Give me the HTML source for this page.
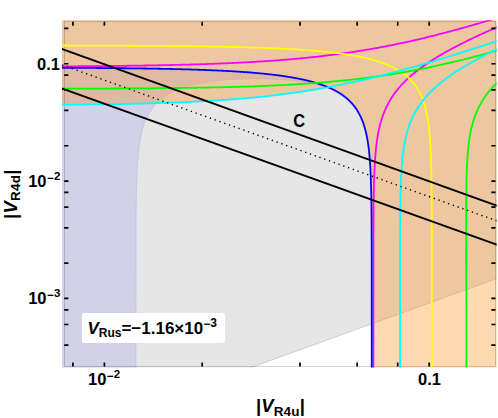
<!DOCTYPE html><html><head><meta charset="utf-8"><style>html,body{margin:0;padding:0;background:#fff}body{width:498px;height:418px;position:relative;overflow:hidden;font-family:"Liberation Sans",sans-serif}</style></head><body><svg width="498" height="418" viewBox="0 0 498 418" style="position:absolute;left:0;top:0">
<defs><clipPath id="cp"><rect x="62.00" y="20.30" width="434.70" height="347.10"/></clipPath></defs>
<rect width="498" height="418" fill="#fff"/>
<g clip-path="url(#cp)">
<path d="M62.00 20.30 L496.70 20.30 L496.70 278.57 L251.22 367.40 L62.00 367.40 Z" fill="#e6e6e6"/>
<path d="M61.00 368.40 L61.00 67.77 L60.00 67.77 L63.08 67.78 L66.09 67.80 L69.04 67.81 L71.93 67.83 L74.76 67.84 L77.53 67.86 L80.25 67.87 L82.92 67.89 L85.54 67.91 L88.10 67.92 L90.63 67.94 L93.10 67.96 L95.54 67.97 L97.93 67.99 L100.28 68.01 L102.59 68.03 L104.86 68.05 L107.10 68.07 L109.30 68.09 L111.46 68.11 L113.59 68.13 L115.69 68.15 L117.76 68.17 L119.80 68.19 L121.80 68.21 L123.78 68.23 L125.73 68.25 L127.66 68.28 L129.55 68.30 L131.42 68.32 L133.27 68.35 L135.09 68.37 L136.88 68.39 L138.66 68.42 L140.41 68.44 L142.13 68.47 L143.84 68.49 L145.53 68.52 L147.19 68.54 L148.83 68.57 L150.46 68.60 L152.06 68.62 L153.65 68.65 L155.22 68.68 L156.77 68.70 L158.30 68.73 L159.81 68.76 L161.31 68.79 L162.79 68.82 L164.26 68.85 L165.70 68.88 L167.14 68.91 L168.56 68.94 L169.96 68.97 L171.35 69.00 L172.72 69.03 L174.08 69.06 L175.43 69.09 L176.76 69.12 L178.08 69.16 L179.39 69.19 L180.68 69.22 L181.96 69.26 L183.23 69.29 L184.49 69.32 L185.73 69.36 L186.97 69.39 L188.19 69.43 L189.40 69.46 L190.60 69.50 L191.78 69.54 L192.96 69.57 L194.13 69.61 L195.28 69.65 L196.43 69.68 L197.57 69.72 L198.69 69.76 L199.81 69.80 L200.92 69.84 L202.01 69.88 L203.10 69.92 L204.18 69.95 L205.25 69.99 L206.31 70.04 L207.36 70.08 L208.41 70.12 L209.44 70.16 L210.47 70.20 L211.49 70.24 L212.50 70.28 L213.50 70.33 L214.49 70.37 L215.48 70.41 L216.46 70.46 L217.43 70.50 L218.40 70.55 L219.35 70.59 L220.30 70.64 L221.24 70.68 L222.18 70.73 L223.11 70.77 L224.03 70.82 L224.94 70.87 L225.85 70.91 L226.75 70.96 L227.65 71.01 L228.53 71.06 L229.41 71.11 L230.29 71.16 L231.16 71.21 L232.02 71.26 L232.88 71.31 L233.73 71.36 L234.57 71.41 L235.41 71.46 L236.25 71.51 L237.07 71.56 L237.90 71.61 L238.71 71.67 L239.52 71.72 L240.33 71.77 L241.13 71.83 L241.92 71.88 L242.71 71.93 L243.50 71.99 L244.28 72.04 L245.05 72.10 L245.82 72.15 L246.58 72.21 L247.34 72.27 L248.09 72.32 L248.84 72.38 L249.59 72.44 L250.33 72.50 L251.06 72.55 L251.79 72.61 L252.52 72.67 L253.24 72.73 L253.95 72.79 L254.67 72.85 L255.37 72.91 L256.08 72.97 L256.78 73.03 L257.47 73.10 L258.16 73.16 L258.85 73.22 L259.53 73.28 L260.21 73.35 L260.88 73.41 L261.55 73.47 L262.22 73.54 L262.88 73.60 L263.54 73.67 L264.19 73.73 L264.84 73.80 L265.49 73.87 L266.13 73.93 L266.77 74.00 L267.41 74.07 L268.04 74.14 L268.66 74.20 L269.29 74.27 L269.91 74.34 L270.53 74.41 L271.14 74.48 L271.75 74.55 L272.36 74.62 L272.96 74.69 L273.56 74.77 L274.16 74.84 L274.75 74.91 L275.34 74.98 L275.93 75.05 L276.51 75.13 L277.09 75.20 L277.67 75.28 L278.24 75.35 L278.81 75.43 L279.38 75.50 L279.94 75.58 L280.50 75.65 L281.06 75.73 L281.62 75.81 L282.17 75.89 L282.72 75.96 L283.26 76.04 L283.81 76.12 L284.35 76.20 L284.88 76.28 L285.42 76.36 L285.95 76.44 L286.48 76.52 L287.00 76.60 L287.53 76.69 L288.05 76.77 L288.56 76.85 L289.08 76.93 L289.59 77.02 L290.10 77.10 L290.61 77.19 L291.11 77.27 L291.61 77.36 L292.11 77.44 L292.61 77.53 L293.10 77.62 L293.59 77.70 L294.08 77.79 L294.57 77.88 L295.05 77.97 L295.53 78.06 L296.01 78.15 L296.49 78.24 L296.96 78.33 L297.43 78.42 L297.90 78.51 L298.37 78.60 L298.83 78.69 L299.30 78.79 L299.76 78.88 L300.21 78.97 L300.67 79.07 L301.12 79.16 L301.57 79.26 L302.02 79.35 L302.46 79.45 L302.91 79.55 L303.35 79.64 L303.79 79.74 L304.22 79.84 L304.66 79.94 L305.09 80.04 L305.52 80.14 L305.95 80.24 L306.38 80.34 L306.80 80.44 L307.22 80.54 L307.64 80.64 L308.06 80.75 L308.48 80.85 L308.89 80.95 L309.30 81.06 L309.71 81.16 L310.12 81.27 L310.52 81.37 L310.93 81.48 L311.33 81.59 L311.73 81.69 L312.12 81.80 L312.52 81.91 L312.91 82.02 L313.31 82.13 L313.70 82.24 L314.08 82.35 L314.47 82.46 L314.85 82.57 L315.24 82.68 L315.62 82.79 L315.99 82.91 L316.37 83.02 L316.75 83.14 L317.12 83.25 L317.49 83.37 L317.86 83.48 L318.23 83.60 L318.59 83.72 L318.96 83.83 L319.32 83.95 L319.68 84.07 L320.04 84.19 L320.39 84.31 L320.75 84.43 L321.10 84.55 L321.45 84.68 L321.80 84.80 L322.15 84.92 L322.50 85.04 L322.84 85.17 L323.19 85.29 L323.53 85.42 L323.87 85.55 L324.21 85.67 L324.54 85.80 L324.88 85.93 L325.11 86.96 L324.57 86.80 L324.03 86.64 L323.48 86.48 L322.94 86.33 L322.40 86.17 L321.86 86.03 L321.31 85.88 L320.77 85.73 L320.23 85.59 L319.68 85.45 L319.14 85.31 L318.60 85.18 L318.06 85.04 L317.51 84.91 L316.97 84.78 L316.43 84.66 L315.88 84.53 L315.34 84.41 L314.80 84.29 L314.25 84.17 L313.71 84.05 L313.17 83.93 L312.63 83.82 L312.08 83.71 L311.54 83.60 L311.00 83.49 L310.45 83.38 L309.91 83.27 L309.37 83.17 L308.82 83.07 L308.28 82.97 L307.74 82.87 L307.20 82.77 L306.65 82.67 L306.11 82.58 L305.57 82.49 L305.02 82.39 L304.48 82.30 L303.94 82.21 L303.40 82.13 L302.85 82.04 L302.31 81.96 L301.77 81.87 L301.22 81.79 L300.68 81.71 L300.14 81.63 L299.59 81.55 L299.05 81.48 L298.51 81.40 L297.97 81.33 L297.42 81.25 L296.88 81.18 L296.34 81.11 L295.79 81.04 L295.25 80.97 L294.71 80.90 L294.17 80.84 L293.62 80.77 L293.08 80.71 L292.54 80.65 L291.99 80.58 L291.45 80.52 L290.91 80.46 L290.36 80.41 L289.82 80.35 L289.28 80.29 L288.74 80.24 L288.19 80.18 L287.65 80.13 L287.11 80.08 L286.56 80.03 L286.02 79.98 L285.48 79.93 L284.93 79.88 L284.39 79.83 L283.85 79.79 L283.31 79.74 L282.76 79.70 L282.22 79.65 L281.68 79.61 L281.13 79.57 L280.59 79.53 L280.05 79.49 L279.51 79.45 L278.96 79.41 L278.42 79.37 L277.88 79.34 L277.33 79.30 L276.79 79.27 L276.25 79.23 L275.70 79.20 L275.16 79.17 L274.62 79.14 L274.08 79.11 L273.53 79.08 L272.99 79.05 L272.45 79.02 L271.90 79.00 L271.36 78.97 L270.82 78.95 L270.28 78.92 L269.73 78.90 L269.19 78.88 L268.65 78.85 L268.10 78.83 L267.56 78.81 L267.02 78.79 L266.47 78.78 L265.93 78.76 L265.39 78.74 L264.85 78.73 L264.30 78.71 L263.76 78.70 L263.22 78.68 L262.67 78.67 L262.13 78.66 L261.59 78.65 L261.05 78.64 L260.50 78.63 L259.96 78.62 L259.42 78.61 L258.87 78.60 L258.33 78.60 L257.79 78.59 L257.24 78.58 L256.70 78.58 L256.16 78.58 L255.62 78.57 L255.07 78.57 L254.53 78.57 L253.99 78.57 L253.44 78.57 L252.90 78.57 L252.36 78.58 L251.81 78.58 L251.27 78.58 L250.73 78.59 L250.19 78.59 L249.64 78.60 L249.10 78.61 L248.56 78.61 L248.01 78.62 L247.47 78.63 L246.93 78.64 L246.39 78.65 L245.84 78.66 L245.30 78.68 L244.76 78.69 L244.21 78.70 L243.67 78.72 L243.13 78.74 L242.58 78.75 L242.04 78.77 L241.50 78.79 L240.96 78.81 L240.41 78.83 L239.87 78.85 L239.33 78.87 L238.78 78.89 L238.24 78.92 L237.70 78.94 L237.16 78.97 L236.61 78.99 L236.07 79.02 L235.53 79.05 L234.98 79.07 L234.44 79.10 L233.90 79.13 L233.35 79.17 L232.81 79.20 L232.27 79.23 L231.73 79.27 L231.18 79.30 L230.64 79.34 L230.10 79.37 L229.55 79.41 L229.01 79.45 L228.47 79.49 L227.92 79.53 L227.38 79.57 L226.84 79.62 L226.30 79.66 L225.75 79.70 L225.21 79.75 L224.67 79.80 L224.12 79.84 L223.58 79.89 L223.04 79.94 L222.50 79.99 L221.95 80.05 L221.41 80.10 L220.87 80.15 L220.32 80.21 L219.78 80.27 L219.24 80.32 L218.69 80.38 L218.15 80.44 L217.61 80.50 L217.07 80.57 L216.52 80.63 L215.98 80.69 L215.44 80.76 L214.89 80.83 L214.35 80.90 L213.81 80.96 L213.27 81.04 L212.72 81.11 L212.18 81.18 L211.64 81.26 L211.09 81.33 L210.55 81.41 L210.01 81.49 L209.46 81.57 L208.92 81.65 L208.38 81.73 L207.84 81.82 L207.29 81.90 L206.75 81.99 L206.21 82.08 L205.66 82.17 L205.12 82.26 L204.58 82.36 L204.04 82.45 L203.49 82.55 L202.95 82.65 L202.41 82.75 L201.86 82.85 L201.32 82.95 L200.78 83.06 L200.23 83.17 L199.69 83.28 L199.15 83.39 L198.61 83.50 L198.06 83.62 L197.52 83.73 L196.98 83.85 L196.43 83.97 L195.89 84.09 L195.35 84.22 L194.80 84.35 L194.26 84.47 L193.72 84.61 L193.18 84.74 L192.63 84.87 L192.09 85.01 L191.55 85.15 L191.00 85.30 L190.46 85.44 L189.92 85.59 L189.38 85.74 L188.83 85.89 L188.29 86.05 L187.75 86.21 L187.20 86.37 L186.66 86.53 L186.12 86.70 L185.57 86.87 L185.03 87.04 L184.49 87.22 L183.95 87.39 L183.40 87.58 L182.86 87.76 L182.32 87.95 L181.77 88.14 L181.23 88.34 L180.69 88.54 L180.15 88.74 L179.60 88.95 L179.06 89.16 L178.52 89.37 L177.97 89.59 L177.43 89.81 L176.89 90.04 L176.34 90.27 L175.80 90.51 L175.26 90.75 L174.72 91.00 L174.17 91.25 L173.63 91.50 L173.09 91.76 L172.54 92.03 L172.00 92.30 L171.46 92.58 L170.91 92.86 L170.37 93.15 L169.83 93.45 L169.29 93.75 L168.74 94.06 L168.20 94.37 L167.66 94.70 L167.16 95.00 L165.71 95.92 L164.34 96.84 L163.06 97.75 L161.85 98.67 L160.70 99.59 L159.62 100.51 L158.59 101.42 L157.62 102.34 L156.70 103.26 L155.82 104.18 L154.99 105.09 L154.19 106.01 L153.44 106.93 L152.72 107.85 L152.03 108.77 L151.38 109.68 L150.76 110.60 L150.16 111.52 L149.59 112.44 L149.05 113.35 L148.53 114.27 L148.03 115.19 L147.56 116.11 L147.10 117.03 L146.67 117.94 L146.25 118.86 L145.85 119.78 L145.47 120.70 L145.10 121.61 L144.75 122.53 L144.41 123.45 L144.08 124.37 L143.77 125.28 L143.47 126.20 L143.19 127.12 L142.91 128.04 L142.65 128.96 L142.39 129.87 L142.15 130.79 L141.92 131.71 L141.69 132.63 L141.47 133.54 L141.27 134.46 L141.07 135.38 L140.87 136.30 L140.69 137.22 L140.51 138.13 L140.34 139.05 L140.18 139.97 L140.02 140.89 L139.86 141.80 L139.72 142.72 L139.58 143.64 L139.44 144.56 L139.31 145.47 L139.18 146.39 L139.06 147.31 L138.95 148.23 L138.83 149.15 L138.73 150.06 L138.62 150.98 L138.52 151.90 L138.42 152.82 L138.33 153.73 L138.24 154.65 L138.16 155.57 L138.07 156.49 L137.99 157.41 L137.91 158.32 L137.84 159.24 L137.77 160.16 L137.70 161.08 L137.63 161.99 L137.57 162.91 L137.51 163.83 L137.45 164.75 L137.39 165.66 L137.33 166.58 L137.28 167.50 L137.23 168.42 L137.18 169.34 L137.13 170.25 L137.09 171.17 L137.04 172.09 L137.00 173.01 L136.96 173.92 L136.92 174.84 L136.88 175.76 L136.84 176.68 L136.81 177.60 L136.77 178.51 L136.74 179.43 L136.71 180.35 L136.68 181.27 L136.65 182.18 L136.62 183.10 L136.59 184.02 L136.56 184.94 L136.54 185.85 L136.51 186.77 L136.49 187.69 L136.47 188.61 L136.45 189.53 L136.42 190.44 L136.40 191.36 L136.38 192.28 L136.36 193.20 L136.35 194.11 L136.33 195.03 L136.31 195.95 L136.29 196.87 L136.28 197.79 L136.26 198.70 L136.25 199.62 L136.23 200.54 L136.22 201.46 L136.21 202.37 L136.19 203.29 L136.18 204.21 L136.17 205.13 L136.16 206.04 L136.15 206.96 L136.13 207.88 L136.12 208.80 L136.11 209.72 L136.10 210.63 L136.10 211.55 L136.09 212.47 L136.08 213.39 L136.07 214.30 L136.06 215.22 L136.05 216.14 L136.05 217.06 L136.04 217.98 L136.03 218.89 L136.03 219.81 L136.02 220.73 L136.01 221.65 L136.01 222.56 L136.00 223.48 L135.99 224.40 L135.99 225.32 L135.98 226.23 L135.98 227.15 L135.97 228.07 L135.97 228.99 L135.97 229.91 L135.96 230.82 L135.96 231.74 L135.95 232.66 L135.95 233.58 L135.94 234.49 L135.94 235.41 L135.94 236.33 L135.93 237.25 L135.93 238.17 L135.93 239.08 L135.92 240.00 L135.92 240.92 L135.92 241.84 L135.92 242.75 L135.91 243.67 L135.91 244.59 L135.91 245.51 L135.91 246.42 L135.90 247.34 L135.90 248.26 L135.90 249.18 L135.90 250.10 L135.90 251.01 L135.89 251.93 L135.89 252.85 L135.89 253.77 L135.89 254.68 L135.89 255.60 L135.88 256.52 L135.88 257.44 L135.88 258.36 L135.88 259.27 L135.88 260.19 L135.88 261.11 L135.88 262.03 L135.88 262.94 L135.87 263.86 L135.87 264.78 L135.87 265.70 L135.87 266.61 L135.87 267.53 L135.87 268.45 L135.87 269.37 L135.87 270.29 L135.87 271.20 L135.87 272.12 L135.86 273.04 L135.86 273.96 L135.86 274.87 L135.86 275.79 L135.86 276.71 L135.86 277.63 L135.86 278.55 L135.86 279.46 L135.86 280.38 L135.86 281.30 L135.86 282.22 L135.86 283.13 L135.86 284.05 L135.86 284.97 L135.86 285.89 L135.85 286.80 L135.85 287.72 L135.85 288.64 L135.85 289.56 L135.85 290.48 L135.85 291.39 L135.85 292.31 L135.85 293.23 L135.85 294.15 L135.85 295.06 L135.85 295.98 L135.85 296.90 L135.85 297.82 L135.85 298.74 L135.85 299.65 L135.85 300.57 L135.85 301.49 L135.85 302.41 L135.85 303.32 L135.85 304.24 L135.85 305.16 L135.85 306.08 L135.85 306.99 L135.85 307.91 L135.85 308.83 L135.85 309.75 L135.85 310.67 L135.85 311.58 L135.85 312.50 L135.85 313.42 L135.85 314.34 L135.85 315.25 L135.85 316.17 L135.85 317.09 L135.85 318.01 L135.85 318.93 L135.85 319.84 L135.84 320.76 L135.84 321.68 L135.84 322.60 L135.84 323.51 L135.84 324.43 L135.84 325.35 L135.84 326.27 L135.84 327.18 L135.84 328.10 L135.84 329.02 L135.84 329.94 L135.84 330.86 L135.84 331.77 L135.84 332.69 L135.84 333.61 L135.84 334.53 L135.84 335.44 L135.84 336.36 L135.84 337.28 L135.84 338.20 L135.84 339.12 L135.84 340.03 L135.84 340.95 L135.84 341.87 L135.84 342.79 L135.84 343.70 L135.84 344.62 L135.84 345.54 L135.84 346.46 L135.84 347.37 L135.84 348.29 L135.84 349.21 L135.84 350.13 L135.84 351.05 L135.84 351.96 L135.84 352.88 L135.84 353.80 L135.84 354.72 L135.84 355.63 L135.84 356.55 L135.84 357.47 L135.84 358.39 L135.84 359.31 L135.84 360.22 L135.84 361.14 L135.84 362.06 L135.84 362.98 L135.84 363.89 L135.84 364.81 L135.84 365.73 L135.84 366.65 L135.84 367.56 L135.84 368.48 L135.84 369.40 L135.84 368.40 Z" fill="#d1d1e7"/>
<path d="M135.84 369.40 L135.84 368.48 L135.84 367.56 L135.84 366.65 L135.84 365.73 L135.84 364.81 L135.84 363.89 L135.84 362.98 L135.84 362.06 L135.84 361.14 L135.84 360.22 L135.84 359.31 L135.84 358.39 L135.84 357.47 L135.84 356.55 L135.84 355.63 L135.84 354.72 L135.84 353.80 L135.84 352.88 L135.84 351.96 L135.84 351.05 L135.84 350.13 L135.84 349.21 L135.84 348.29 L135.84 347.37 L135.84 346.46 L135.84 345.54 L135.84 344.62 L135.84 343.70 L135.84 342.79 L135.84 341.87 L135.84 340.95 L135.84 340.03 L135.84 339.12 L135.84 338.20 L135.84 337.28 L135.84 336.36 L135.84 335.44 L135.84 334.53 L135.84 333.61 L135.84 332.69 L135.84 331.77 L135.84 330.86 L135.84 329.94 L135.84 329.02 L135.84 328.10 L135.84 327.18 L135.84 326.27 L135.84 325.35 L135.84 324.43 L135.84 323.51 L135.84 322.60 L135.84 321.68 L135.84 320.76 L135.85 319.84 L135.85 318.93 L135.85 318.01 L135.85 317.09 L135.85 316.17 L135.85 315.25 L135.85 314.34 L135.85 313.42 L135.85 312.50 L135.85 311.58 L135.85 310.67 L135.85 309.75 L135.85 308.83 L135.85 307.91 L135.85 306.99 L135.85 306.08 L135.85 305.16 L135.85 304.24 L135.85 303.32 L135.85 302.41 L135.85 301.49 L135.85 300.57 L135.85 299.65 L135.85 298.74 L135.85 297.82 L135.85 296.90 L135.85 295.98 L135.85 295.06 L135.85 294.15 L135.85 293.23 L135.85 292.31 L135.85 291.39 L135.85 290.48 L135.85 289.56 L135.85 288.64 L135.85 287.72 L135.85 286.80 L135.86 285.89 L135.86 284.97 L135.86 284.05 L135.86 283.13 L135.86 282.22 L135.86 281.30 L135.86 280.38 L135.86 279.46 L135.86 278.55 L135.86 277.63 L135.86 276.71 L135.86 275.79 L135.86 274.87 L135.86 273.96 L135.86 273.04 L135.87 272.12 L135.87 271.20 L135.87 270.29 L135.87 269.37 L135.87 268.45 L135.87 267.53 L135.87 266.61 L135.87 265.70 L135.87 264.78 L135.87 263.86 L135.88 262.94 L135.88 262.03 L135.88 261.11 L135.88 260.19 L135.88 259.27 L135.88 258.36 L135.88 257.44 L135.88 256.52 L135.89 255.60 L135.89 254.68 L135.89 253.77 L135.89 252.85 L135.89 251.93 L135.90 251.01 L135.90 250.10 L135.90 249.18 L135.90 248.26 L135.90 247.34 L135.91 246.42 L135.91 245.51 L135.91 244.59 L135.91 243.67 L135.92 242.75 L135.92 241.84 L135.92 240.92 L135.92 240.00 L135.93 239.08 L135.93 238.17 L135.93 237.25 L135.94 236.33 L135.94 235.41 L135.94 234.49 L135.95 233.58 L135.95 232.66 L135.96 231.74 L135.96 230.82 L135.97 229.91 L135.97 228.99 L135.97 228.07 L135.98 227.15 L135.98 226.23 L135.99 225.32 L135.99 224.40 L136.00 223.48 L136.01 222.56 L136.01 221.65 L136.02 220.73 L136.03 219.81 L136.03 218.89 L136.04 217.98 L136.05 217.06 L136.05 216.14 L136.06 215.22 L136.07 214.30 L136.08 213.39 L136.09 212.47 L136.10 211.55 L136.10 210.63 L136.11 209.72 L136.12 208.80 L136.13 207.88 L136.15 206.96 L136.16 206.04 L136.17 205.13 L136.18 204.21 L136.19 203.29 L136.21 202.37 L136.22 201.46 L136.23 200.54 L136.25 199.62 L136.26 198.70 L136.28 197.79 L136.29 196.87 L136.31 195.95 L136.33 195.03 L136.35 194.11 L136.36 193.20 L136.38 192.28 L136.40 191.36 L136.42 190.44 L136.45 189.53 L136.47 188.61 L136.49 187.69 L136.51 186.77 L136.54 185.85 L136.56 184.94 L136.59 184.02 L136.62 183.10 L136.65 182.18 L136.68 181.27 L136.71 180.35 L136.74 179.43 L136.77 178.51 L136.81 177.60 L136.84 176.68 L136.88 175.76 L136.92 174.84 L136.96 173.92 L137.00 173.01 L137.04 172.09 L137.09 171.17 L137.13 170.25 L137.18 169.34 L137.23 168.42 L137.28 167.50 L137.33 166.58 L137.39 165.66 L137.45 164.75 L137.51 163.83 L137.57 162.91 L137.63 161.99 L137.70 161.08 L137.77 160.16 L137.84 159.24 L137.91 158.32 L137.99 157.41 L138.07 156.49 L138.16 155.57 L138.24 154.65 L138.33 153.73 L138.42 152.82 L138.52 151.90 L138.62 150.98 L138.73 150.06 L138.83 149.15 L138.95 148.23 L139.06 147.31 L139.18 146.39 L139.31 145.47 L139.44 144.56 L139.58 143.64 L139.72 142.72 L139.86 141.80 L140.02 140.89 L140.18 139.97 L140.34 139.05 L140.51 138.13 L140.69 137.22 L140.87 136.30 L141.07 135.38 L141.27 134.46 L141.47 133.54 L141.69 132.63 L141.92 131.71 L142.15 130.79 L142.39 129.87 L142.65 128.96 L142.91 128.04 L143.19 127.12 L143.47 126.20 L143.77 125.28 L144.08 124.37 L144.41 123.45 L144.75 122.53 L145.10 121.61 L145.47 120.70 L145.85 119.78 L146.25 118.86 L146.67 117.94 L147.10 117.03 L147.56 116.11 L148.03 115.19 L148.53 114.27 L149.05 113.35 L149.59 112.44 L150.16 111.52 L150.76 110.60 L151.38 109.68 L152.03 108.77 L152.72 107.85 L153.44 106.93 L154.19 106.01 L154.99 105.09 L155.82 104.18 L156.70 103.26 L157.62 102.34 L158.59 101.42 L159.62 100.51 L160.70 99.59 L161.85 98.67 L163.06 97.75 L164.34 96.84 L165.71 95.92 L167.16 95.00 L167.66 94.70 L168.20 94.37 L168.74 94.06 L169.29 93.75 L169.83 93.45 L170.37 93.15 L170.91 92.86 L171.46 92.58 L172.00 92.30 L172.54 92.03 L173.09 91.76 L173.63 91.50 L174.17 91.25 L174.72 91.00 L175.26 90.75 L175.80 90.51 L176.34 90.27 L176.89 90.04 L177.43 89.81 L177.97 89.59 L178.52 89.37 L179.06 89.16 L179.60 88.95 L180.15 88.74 L180.69 88.54 L181.23 88.34 L181.77 88.14 L182.32 87.95 L182.86 87.76 L183.40 87.58 L183.95 87.39 L184.49 87.22 L185.03 87.04 L185.57 86.87 L186.12 86.70 L186.66 86.53 L187.20 86.37 L187.75 86.21 L188.29 86.05 L188.83 85.89 L189.38 85.74 L189.92 85.59 L190.46 85.44 L191.00 85.30 L191.55 85.15 L192.09 85.01 L192.63 84.87 L193.18 84.74 L193.72 84.61 L194.26 84.47 L194.80 84.35 L195.35 84.22 L195.89 84.09 L196.43 83.97 L196.98 83.85 L197.52 83.73 L198.06 83.62 L198.61 83.50 L199.15 83.39 L199.69 83.28 L200.23 83.17 L200.78 83.06 L201.32 82.95 L201.86 82.85 L202.41 82.75 L202.95 82.65 L203.49 82.55 L204.04 82.45 L204.58 82.36 L205.12 82.26 L205.66 82.17 L206.21 82.08 L206.75 81.99 L207.29 81.90 L207.84 81.82 L208.38 81.73 L208.92 81.65 L209.46 81.57 L210.01 81.49 L210.55 81.41 L211.09 81.33 L211.64 81.26 L212.18 81.18 L212.72 81.11 L213.27 81.04 L213.81 80.96 L214.35 80.90 L214.89 80.83 L215.44 80.76 L215.98 80.69 L216.52 80.63 L217.07 80.57 L217.61 80.50 L218.15 80.44 L218.69 80.38 L219.24 80.32 L219.78 80.27 L220.32 80.21 L220.87 80.15 L221.41 80.10 L221.95 80.05 L222.50 79.99 L223.04 79.94 L223.58 79.89 L224.12 79.84 L224.67 79.80 L225.21 79.75 L225.75 79.70 L226.30 79.66 L226.84 79.62 L227.38 79.57 L227.92 79.53 L228.47 79.49 L229.01 79.45 L229.55 79.41 L230.10 79.37 L230.64 79.34 L231.18 79.30 L231.73 79.27 L232.27 79.23 L232.81 79.20 L233.35 79.17 L233.90 79.13 L234.44 79.10 L234.98 79.07 L235.53 79.05 L236.07 79.02 L236.61 78.99 L237.16 78.97 L237.70 78.94 L238.24 78.92 L238.78 78.89 L239.33 78.87 L239.87 78.85 L240.41 78.83 L240.96 78.81 L241.50 78.79 L242.04 78.77 L242.58 78.75 L243.13 78.74 L243.67 78.72 L244.21 78.70 L244.76 78.69 L245.30 78.68 L245.84 78.66 L246.39 78.65 L246.93 78.64 L247.47 78.63 L248.01 78.62 L248.56 78.61 L249.10 78.61 L249.64 78.60 L250.19 78.59 L250.73 78.59 L251.27 78.58 L251.81 78.58 L252.36 78.58 L252.90 78.57 L253.44 78.57 L253.99 78.57 L254.53 78.57 L255.07 78.57 L255.62 78.57 L256.16 78.58 L256.70 78.58 L257.24 78.58 L257.79 78.59 L258.33 78.60 L258.87 78.60 L259.42 78.61 L259.96 78.62 L260.50 78.63 L261.05 78.64 L261.59 78.65 L262.13 78.66 L262.67 78.67 L263.22 78.68 L263.76 78.70 L264.30 78.71 L264.85 78.73 L265.39 78.74 L265.93 78.76 L266.47 78.78 L267.02 78.79 L267.56 78.81 L268.10 78.83 L268.65 78.85 L269.19 78.88 L269.73 78.90 L270.28 78.92 L270.82 78.95 L271.36 78.97 L271.90 79.00 L272.45 79.02 L272.99 79.05 L273.53 79.08 L274.08 79.11 L274.62 79.14 L275.16 79.17 L275.70 79.20 L276.25 79.23 L276.79 79.27 L277.33 79.30 L277.88 79.34 L278.42 79.37 L278.96 79.41 L279.51 79.45 L280.05 79.49 L280.59 79.53 L281.13 79.57 L281.68 79.61 L282.22 79.65 L282.76 79.70 L283.31 79.74 L283.85 79.79 L284.39 79.83 L284.93 79.88 L285.48 79.93 L286.02 79.98 L286.56 80.03 L287.11 80.08 L287.65 80.13 L288.19 80.18 L288.74 80.24 L289.28 80.29 L289.82 80.35 L290.36 80.41 L290.91 80.46 L291.45 80.52 L291.99 80.58 L292.54 80.65 L293.08 80.71 L293.62 80.77 L294.17 80.84 L294.71 80.90 L295.25 80.97 L295.79 81.04 L296.34 81.11 L296.88 81.18 L297.42 81.25 L297.97 81.33 L298.51 81.40 L299.05 81.48 L299.59 81.55 L300.14 81.63 L300.68 81.71 L301.22 81.79 L301.77 81.87 L302.31 81.96 L302.85 82.04 L303.40 82.13 L303.94 82.21 L304.48 82.30 L305.02 82.39 L305.57 82.49 L306.11 82.58 L306.65 82.67 L307.20 82.77 L307.74 82.87 L308.28 82.97 L308.82 83.07 L309.37 83.17 L309.91 83.27 L310.45 83.38 L311.00 83.49 L311.54 83.60 L312.08 83.71 L312.63 83.82 L313.17 83.93 L313.71 84.05 L314.25 84.17 L314.80 84.29 L315.34 84.41 L315.88 84.53 L316.43 84.66 L316.97 84.78 L317.51 84.91 L318.06 85.04 L318.60 85.18 L319.14 85.31 L319.68 85.45 L320.23 85.59 L320.77 85.73 L321.31 85.88 L321.86 86.03 L322.40 86.17 L322.94 86.33 L323.48 86.48 L324.03 86.64 L324.57 86.80 L325.11 86.96 L325.21 86.06 L325.54 86.19 L325.87 86.32 L326.20 86.45 L326.53 86.58 L326.86 86.71 L327.18 86.84 L327.50 86.97 L327.82 87.11 L328.14 87.24 L328.46 87.38 L328.77 87.51 L329.09 87.65 L329.40 87.79 L329.71 87.92 L330.02 88.06 L330.33 88.20 L330.64 88.34 L330.94 88.48 L331.25 88.62 L331.55 88.76 L331.85 88.91 L332.15 89.05 L332.45 89.19 L332.74 89.34 L333.04 89.48 L333.33 89.63 L333.62 89.78 L333.91 89.92 L334.20 90.07 L334.49 90.22 L334.78 90.37 L335.06 90.52 L335.34 90.67 L335.63 90.83 L335.91 90.98 L336.19 91.13 L336.46 91.29 L336.74 91.44 L337.02 91.60 L337.29 91.75 L337.56 91.91 L337.83 92.07 L338.10 92.23 L338.37 92.39 L338.64 92.55 L338.90 92.71 L339.17 92.87 L339.43 93.04 L339.69 93.20 L339.95 93.36 L340.21 93.53 L340.47 93.70 L340.73 93.86 L340.98 94.03 L341.23 94.20 L341.49 94.37 L341.74 94.54 L341.99 94.71 L342.24 94.88 L342.48 95.06 L342.73 95.23 L342.97 95.41 L343.22 95.58 L343.46 95.76 L343.70 95.94 L343.94 96.12 L344.18 96.30 L344.42 96.48 L344.65 96.66 L344.89 96.84 L345.12 97.03 L345.35 97.21 L345.59 97.40 L345.81 97.58 L346.04 97.77 L346.27 97.96 L346.50 98.15 L346.72 98.34 L346.95 98.53 L347.17 98.72 L347.39 98.91 L347.61 99.11 L347.83 99.30 L348.05 99.50 L348.26 99.70 L348.48 99.90 L348.70 100.10 L348.91 100.30 L349.12 100.50 L349.33 100.70 L349.54 100.91 L349.75 101.11 L349.96 101.32 L350.16 101.53 L350.37 101.74 L350.57 101.95 L350.78 102.16 L350.98 102.37 L351.18 102.58 L351.38 102.80 L351.58 103.01 L351.77 103.23 L351.97 103.45 L352.17 103.67 L352.36 103.89 L352.55 104.11 L352.74 104.34 L352.94 104.56 L353.12 104.79 L353.31 105.02 L353.50 105.24 L353.69 105.47 L353.87 105.71 L354.06 105.94 L354.24 106.17 L354.42 106.41 L354.60 106.64 L354.78 106.88 L354.96 107.12 L355.14 107.36 L355.32 107.61 L355.49 107.85 L355.67 108.10 L355.84 108.34 L356.01 108.59 L356.18 108.84 L356.35 109.09 L356.52 109.35 L356.69 109.60 L356.86 109.86 L357.03 110.11 L357.19 110.37 L357.35 110.64 L357.52 110.90 L357.68 111.16 L357.84 111.43 L358.00 111.70 L358.16 111.97 L358.32 112.24 L358.48 112.51 L358.63 112.79 L358.79 113.06 L358.94 113.34 L359.09 113.62 L359.25 113.90 L359.40 114.19 L359.55 114.47 L359.70 114.76 L359.84 115.05 L359.99 115.34 L360.14 115.64 L360.28 115.93 L360.43 116.23 L360.57 116.53 L360.71 116.83 L360.85 117.13 L360.99 117.44 L361.13 117.75 L361.27 118.06 L361.41 118.37 L361.54 118.69 L361.68 119.00 L361.81 119.32 L361.94 119.64 L362.08 119.97 L362.21 120.29 L362.34 120.62 L362.47 120.95 L362.60 121.29 L362.72 121.62 L362.85 121.96 L362.98 122.30 L363.10 122.65 L363.22 122.99 L363.35 123.34 L363.47 123.70 L363.59 124.05 L363.71 124.41 L363.83 124.77 L363.95 125.13 L364.06 125.50 L364.18 125.87 L364.30 126.24 L364.41 126.61 L364.52 126.99 L364.64 127.37 L364.75 127.76 L364.86 128.14 L364.97 128.53 L365.08 128.93 L365.18 129.33 L365.29 129.73 L365.40 130.13 L365.50 130.54 L365.61 130.95 L365.71 131.37 L365.81 131.79 L365.91 132.21 L366.01 132.63 L366.11 133.07 L366.21 133.50 L366.31 133.94 L366.41 134.38 L366.50 134.83 L366.60 135.28 L366.69 135.73 L366.79 136.19 L366.88 136.66 L366.97 137.13 L367.06 137.60 L367.15 138.08 L367.24 138.56 L367.33 139.05 L367.41 139.54 L367.50 140.04 L367.58 140.54 L367.67 141.05 L367.75 141.56 L367.83 142.08 L367.92 142.61 L368.00 143.14 L368.08 143.68 L368.16 144.22 L368.23 144.77 L368.31 145.32 L368.39 145.89 L368.46 146.45 L368.54 147.03 L368.61 147.61 L368.68 148.20 L368.76 148.79 L368.83 149.40 L368.90 150.01 L368.97 150.63 L369.04 151.25 L369.10 151.89 L369.17 152.53 L369.24 153.18 L369.30 153.84 L369.36 154.51 L369.43 155.19 L369.49 155.88 L369.55 156.57 L369.61 157.28 L369.67 158.00 L369.73 158.72 L369.79 159.46 L369.85 160.21 L369.90 160.97 L369.96 161.75 L370.01 162.53 L370.07 163.33 L370.12 164.14 L370.17 164.97 L370.22 165.80 L370.27 166.66 L370.32 167.52 L370.37 168.41 L370.42 169.30 L370.46 170.22 L370.51 171.15 L370.56 172.10 L370.60 173.07 L370.64 174.05 L370.69 175.06 L370.73 176.09 L370.77 177.13 L370.81 178.20 L370.85 179.30 L370.89 180.42 L370.92 181.56 L370.96 182.73 L371.00 183.93 L371.03 185.15 L371.07 186.41 L371.10 187.70 L371.13 189.02 L371.16 190.38 L371.19 191.78 L371.22 193.21 L371.25 194.69 L371.28 196.21 L371.31 197.78 L371.33 199.40 L371.36 201.07 L371.39 202.80 L371.41 204.59 L371.43 206.44 L371.45 208.36 L371.48 210.37 L371.50 212.45 L371.52 214.62 L371.54 216.89 L371.55 219.26 L371.57 221.75 L371.59 224.37 L371.60 227.13 L371.62 230.04 L371.63 233.14 L371.64 236.43 L371.66 239.96 L371.67 243.74 L371.68 247.83 L371.69 252.27 L371.70 257.14 L371.70 262.51 L371.71 268.53 L371.72 275.35 L371.72 283.22 L371.73 292.53 L371.73 303.93 L371.73 318.62 L371.74 323.79 L251.22 367.40 L135.84 367.40 Z" fill="#e6e6e6"/>
<path d="M135.84 369.40 L135.84 368.48 L135.84 367.56 L135.84 366.65 L135.84 365.73 L135.84 364.81 L135.84 363.89 L135.84 362.98 L135.84 362.06 L135.84 361.14 L135.84 360.22 L135.84 359.31 L135.84 358.39 L135.84 357.47 L135.84 356.55 L135.84 355.63 L135.84 354.72 L135.84 353.80 L135.84 352.88 L135.84 351.96 L135.84 351.05 L135.84 350.13 L135.84 349.21 L135.84 348.29 L135.84 347.37 L135.84 346.46 L135.84 345.54 L135.84 344.62 L135.84 343.70 L135.84 342.79 L135.84 341.87 L135.84 340.95 L135.84 340.03 L135.84 339.12 L135.84 338.20 L135.84 337.28 L135.84 336.36 L135.84 335.44 L135.84 334.53 L135.84 333.61 L135.84 332.69 L135.84 331.77 L135.84 330.86 L135.84 329.94 L135.84 329.02 L135.84 328.10 L135.84 327.18 L135.84 326.27 L135.84 325.35 L135.84 324.43 L135.84 323.51 L135.84 322.60 L135.84 321.68 L135.84 320.76 L135.85 319.84 L135.85 318.93 L135.85 318.01 L135.85 317.09 L135.85 316.17 L135.85 315.25 L135.85 314.34 L135.85 313.42 L135.85 312.50 L135.85 311.58 L135.85 310.67 L135.85 309.75 L135.85 308.83 L135.85 307.91 L135.85 306.99 L135.85 306.08 L135.85 305.16 L135.85 304.24 L135.85 303.32 L135.85 302.41 L135.85 301.49 L135.85 300.57 L135.85 299.65 L135.85 298.74 L135.85 297.82 L135.85 296.90 L135.85 295.98 L135.85 295.06 L135.85 294.15 L135.85 293.23 L135.85 292.31 L135.85 291.39 L135.85 290.48 L135.85 289.56 L135.85 288.64 L135.85 287.72 L135.85 286.80 L135.86 285.89 L135.86 284.97 L135.86 284.05 L135.86 283.13 L135.86 282.22 L135.86 281.30 L135.86 280.38 L135.86 279.46 L135.86 278.55 L135.86 277.63 L135.86 276.71 L135.86 275.79 L135.86 274.87 L135.86 273.96 L135.86 273.04 L135.87 272.12 L135.87 271.20 L135.87 270.29 L135.87 269.37 L135.87 268.45 L135.87 267.53 L135.87 266.61 L135.87 265.70 L135.87 264.78 L135.87 263.86 L135.88 262.94 L135.88 262.03 L135.88 261.11 L135.88 260.19 L135.88 259.27 L135.88 258.36 L135.88 257.44 L135.88 256.52 L135.89 255.60 L135.89 254.68 L135.89 253.77 L135.89 252.85 L135.89 251.93 L135.90 251.01 L135.90 250.10 L135.90 249.18 L135.90 248.26 L135.90 247.34 L135.91 246.42 L135.91 245.51 L135.91 244.59 L135.91 243.67 L135.92 242.75 L135.92 241.84 L135.92 240.92 L135.92 240.00 L135.93 239.08 L135.93 238.17 L135.93 237.25 L135.94 236.33 L135.94 235.41 L135.94 234.49 L135.95 233.58 L135.95 232.66 L135.96 231.74 L135.96 230.82 L135.97 229.91 L135.97 228.99 L135.97 228.07 L135.98 227.15 L135.98 226.23 L135.99 225.32 L135.99 224.40 L136.00 223.48 L136.01 222.56 L136.01 221.65 L136.02 220.73 L136.03 219.81 L136.03 218.89 L136.04 217.98 L136.05 217.06 L136.05 216.14 L136.06 215.22 L136.07 214.30 L136.08 213.39 L136.09 212.47 L136.10 211.55 L136.10 210.63 L136.11 209.72 L136.12 208.80 L136.13 207.88 L136.15 206.96 L136.16 206.04 L136.17 205.13 L136.18 204.21 L136.19 203.29 L136.21 202.37 L136.22 201.46 L136.23 200.54 L136.25 199.62 L136.26 198.70 L136.28 197.79 L136.29 196.87 L136.31 195.95 L136.33 195.03 L136.35 194.11 L136.36 193.20 L136.38 192.28 L136.40 191.36 L136.42 190.44 L136.45 189.53 L136.47 188.61 L136.49 187.69 L136.51 186.77 L136.54 185.85 L136.56 184.94 L136.59 184.02 L136.62 183.10 L136.65 182.18 L136.68 181.27 L136.71 180.35 L136.74 179.43 L136.77 178.51 L136.81 177.60 L136.84 176.68 L136.88 175.76 L136.92 174.84 L136.96 173.92 L137.00 173.01 L137.04 172.09 L137.09 171.17 L137.13 170.25 L137.18 169.34 L137.23 168.42 L137.28 167.50 L137.33 166.58 L137.39 165.66 L137.45 164.75 L137.51 163.83 L137.57 162.91 L137.63 161.99 L137.70 161.08 L137.77 160.16 L137.84 159.24 L137.91 158.32 L137.99 157.41 L138.07 156.49 L138.16 155.57 L138.24 154.65 L138.33 153.73 L138.42 152.82 L138.52 151.90 L138.62 150.98 L138.73 150.06 L138.83 149.15 L138.95 148.23 L139.06 147.31 L139.18 146.39 L139.31 145.47 L139.44 144.56 L139.58 143.64 L139.72 142.72 L139.86 141.80 L140.02 140.89 L140.18 139.97 L140.34 139.05 L140.51 138.13 L140.69 137.22 L140.87 136.30 L141.07 135.38 L141.27 134.46 L141.47 133.54 L141.69 132.63 L141.92 131.71 L142.15 130.79 L142.39 129.87 L142.65 128.96 L142.91 128.04 L143.19 127.12 L143.47 126.20 L143.77 125.28 L144.08 124.37 L144.41 123.45 L144.75 122.53 L145.10 121.61 L145.47 120.70 L145.85 119.78 L146.25 118.86 L146.67 117.94 L147.10 117.03 L147.56 116.11 L148.03 115.19 L148.53 114.27 L149.05 113.35 L149.59 112.44 L150.16 111.52 L150.76 110.60 L151.38 109.68 L152.03 108.77 L152.72 107.85 L153.44 106.93 L154.19 106.01 L154.99 105.09 L155.82 104.18 L156.70 103.26 L157.62 102.34 L158.59 101.42 L159.62 100.51 L160.70 99.59 L161.85 98.67 L163.06 97.75 L164.34 96.84 L165.71 95.92 L167.16 95.00 L167.66 94.70 L168.20 94.37 L168.74 94.06 L169.29 93.75 L169.83 93.45 L170.37 93.15 L170.91 92.86 L171.46 92.58 L172.00 92.30 L172.54 92.03 L173.09 91.76 L173.63 91.50 L174.17 91.25 L174.72 91.00 L175.26 90.75 L175.80 90.51 L176.34 90.27 L176.89 90.04 L177.43 89.81 L177.97 89.59 L178.52 89.37 L179.06 89.16 L179.60 88.95 L180.15 88.74 L180.69 88.54 L181.23 88.34 L181.77 88.14 L182.32 87.95 L182.86 87.76 L183.40 87.58 L183.95 87.39 L184.49 87.22 L185.03 87.04 L185.57 86.87 L186.12 86.70 L186.66 86.53 L187.20 86.37 L187.75 86.21 L188.29 86.05 L188.83 85.89 L189.38 85.74 L189.92 85.59 L190.46 85.44 L191.00 85.30 L191.55 85.15 L192.09 85.01 L192.63 84.87 L193.18 84.74 L193.72 84.61 L194.26 84.47 L194.80 84.35 L195.35 84.22 L195.89 84.09 L196.43 83.97 L196.98 83.85 L197.52 83.73 L198.06 83.62 L198.61 83.50 L199.15 83.39 L199.69 83.28 L200.23 83.17 L200.78 83.06 L201.32 82.95 L201.86 82.85 L202.41 82.75 L202.95 82.65 L203.49 82.55 L204.04 82.45 L204.58 82.36 L205.12 82.26 L205.66 82.17 L206.21 82.08 L206.75 81.99 L207.29 81.90 L207.84 81.82 L208.38 81.73 L208.92 81.65 L209.46 81.57 L210.01 81.49 L210.55 81.41 L211.09 81.33 L211.64 81.26 L212.18 81.18 L212.72 81.11 L213.27 81.04 L213.81 80.96 L214.35 80.90 L214.89 80.83 L215.44 80.76 L215.98 80.69 L216.52 80.63 L217.07 80.57 L217.61 80.50 L218.15 80.44 L218.69 80.38 L219.24 80.32 L219.78 80.27 L220.32 80.21 L220.87 80.15 L221.41 80.10 L221.95 80.05 L222.50 79.99 L223.04 79.94 L223.58 79.89 L224.12 79.84 L224.67 79.80 L225.21 79.75 L225.75 79.70 L226.30 79.66 L226.84 79.62 L227.38 79.57 L227.92 79.53 L228.47 79.49 L229.01 79.45 L229.55 79.41 L230.10 79.37 L230.64 79.34 L231.18 79.30 L231.73 79.27 L232.27 79.23 L232.81 79.20 L233.35 79.17 L233.90 79.13 L234.44 79.10 L234.98 79.07 L235.53 79.05 L236.07 79.02 L236.61 78.99 L237.16 78.97 L237.70 78.94 L238.24 78.92 L238.78 78.89 L239.33 78.87 L239.87 78.85 L240.41 78.83 L240.96 78.81 L241.50 78.79 L242.04 78.77 L242.58 78.75 L243.13 78.74 L243.67 78.72 L244.21 78.70 L244.76 78.69 L245.30 78.68 L245.84 78.66 L246.39 78.65 L246.93 78.64 L247.47 78.63 L248.01 78.62 L248.56 78.61 L249.10 78.61 L249.64 78.60 L250.19 78.59 L250.73 78.59 L251.27 78.58 L251.81 78.58 L252.36 78.58 L252.90 78.57 L253.44 78.57 L253.99 78.57 L254.53 78.57 L255.07 78.57 L255.62 78.57 L256.16 78.58 L256.70 78.58 L257.24 78.58 L257.79 78.59 L258.33 78.60 L258.87 78.60 L259.42 78.61 L259.96 78.62 L260.50 78.63 L261.05 78.64 L261.59 78.65 L262.13 78.66 L262.67 78.67 L263.22 78.68 L263.76 78.70 L264.30 78.71 L264.85 78.73 L265.39 78.74 L265.93 78.76 L266.47 78.78 L267.02 78.79 L267.56 78.81 L268.10 78.83 L268.65 78.85 L269.19 78.88 L269.73 78.90 L270.28 78.92 L270.82 78.95 L271.36 78.97 L271.90 79.00 L272.45 79.02 L272.99 79.05 L273.53 79.08 L274.08 79.11 L274.62 79.14 L275.16 79.17 L275.70 79.20 L276.25 79.23 L276.79 79.27 L277.33 79.30 L277.88 79.34 L278.42 79.37 L278.96 79.41 L279.51 79.45 L280.05 79.49 L280.59 79.53 L281.13 79.57 L281.68 79.61 L282.22 79.65 L282.76 79.70 L283.31 79.74 L283.85 79.79 L284.39 79.83 L284.93 79.88 L285.48 79.93 L286.02 79.98 L286.56 80.03 L287.11 80.08 L287.65 80.13 L288.19 80.18 L288.74 80.24 L289.28 80.29 L289.82 80.35 L290.36 80.41 L290.91 80.46 L291.45 80.52 L291.99 80.58 L292.54 80.65 L293.08 80.71 L293.62 80.77 L294.17 80.84 L294.71 80.90 L295.25 80.97 L295.79 81.04 L296.34 81.11 L296.88 81.18 L297.42 81.25 L297.97 81.33 L298.51 81.40 L299.05 81.48 L299.59 81.55 L300.14 81.63 L300.68 81.71 L301.22 81.79 L301.77 81.87 L302.31 81.96 L302.85 82.04 L303.40 82.13 L303.94 82.21 L304.48 82.30 L305.02 82.39 L305.57 82.49 L306.11 82.58 L306.65 82.67 L307.20 82.77 L307.74 82.87 L308.28 82.97 L308.82 83.07 L309.37 83.17 L309.91 83.27 L310.45 83.38 L311.00 83.49 L311.54 83.60 L312.08 83.71 L312.63 83.82 L313.17 83.93 L313.71 84.05 L314.25 84.17 L314.80 84.29 L315.34 84.41 L315.88 84.53 L316.43 84.66 L316.97 84.78 L317.51 84.91 L318.06 85.04 L318.60 85.18 L319.14 85.31 L319.68 85.45 L320.23 85.59 L320.77 85.73 L321.31 85.88 L321.86 86.03 L322.40 86.17 L322.94 86.33 L323.48 86.48 L324.03 86.64 L324.57 86.80 L325.11 86.96" fill="none" stroke="#c2c2ee" stroke-width="1"/>
<path d="M251.22 367.40 L496.70 278.57" stroke="#cfcfcf" stroke-width="1" fill="none"/>
<path d="M56.00 14.30 H502.70 V373.40 H56.00 Z M61.00 368.40 L61.00 104.72 L61.10 104.72 L62.20 104.71 L63.30 104.70 L64.40 104.69 L65.50 104.68 L66.60 104.67 L67.70 104.66 L68.80 104.65 L69.90 104.64 L70.99 104.63 L72.09 104.62 L73.19 104.61 L74.29 104.60 L75.39 104.59 L76.49 104.58 L77.59 104.57 L78.69 104.56 L79.79 104.55 L80.89 104.54 L81.99 104.53 L83.09 104.52 L84.19 104.50 L85.29 104.49 L86.39 104.48 L87.49 104.47 L88.59 104.45 L89.69 104.44 L90.79 104.43 L91.89 104.42 L92.98 104.40 L94.08 104.39 L95.18 104.37 L96.28 104.36 L97.38 104.35 L98.48 104.33 L99.58 104.32 L100.68 104.30 L101.78 104.29 L102.88 104.27 L103.98 104.26 L105.08 104.24 L106.18 104.22 L107.28 104.21 L108.38 104.19 L109.48 104.17 L110.58 104.16 L111.68 104.14 L112.78 104.12 L113.88 104.10 L114.97 104.08 L116.07 104.07 L117.17 104.05 L118.27 104.03 L119.37 104.01 L120.47 103.99 L121.57 103.97 L122.67 103.95 L123.77 103.93 L124.87 103.91 L125.97 103.88 L127.07 103.86 L128.17 103.84 L129.27 103.82 L130.37 103.80 L131.47 103.77 L132.57 103.75 L133.67 103.73 L134.77 103.70 L135.87 103.68 L136.96 103.65 L138.06 103.63 L139.16 103.60 L140.26 103.57 L141.36 103.55 L142.46 103.52 L143.56 103.49 L144.66 103.47 L145.76 103.44 L146.86 103.41 L147.96 103.38 L149.06 103.35 L150.16 103.32 L151.26 103.29 L152.36 103.26 L153.46 103.23 L154.56 103.20 L155.66 103.17 L156.76 103.13 L157.86 103.10 L158.95 103.07 L160.05 103.03 L161.15 103.00 L162.25 102.97 L163.35 102.93 L164.45 102.89 L165.55 102.86 L166.65 102.82 L167.75 102.78 L168.85 102.74 L169.95 102.71 L171.05 102.67 L172.15 102.63 L173.25 102.59 L174.35 102.55 L175.45 102.50 L176.55 102.46 L177.65 102.42 L178.75 102.38 L179.85 102.33 L180.94 102.29 L182.04 102.24 L183.14 102.20 L184.24 102.15 L185.34 102.10 L186.44 102.05 L187.54 102.01 L188.64 101.96 L189.74 101.91 L190.84 101.86 L191.94 101.81 L193.04 101.75 L194.14 101.70 L195.24 101.65 L196.34 101.59 L197.44 101.54 L198.54 101.48 L199.64 101.43 L200.74 101.37 L201.84 101.31 L202.93 101.25 L204.03 101.19 L205.13 101.13 L206.23 101.07 L207.33 101.01 L208.43 100.95 L209.53 100.88 L210.63 100.82 L211.73 100.75 L212.83 100.69 L213.93 100.62 L215.03 100.55 L216.13 100.48 L217.23 100.41 L218.33 100.34 L219.43 100.27 L220.53 100.20 L221.63 100.12 L222.73 100.05 L223.83 99.97 L224.92 99.90 L226.02 99.82 L227.12 99.74 L228.22 99.66 L229.32 99.58 L230.42 99.50 L231.52 99.42 L232.62 99.33 L233.72 99.25 L234.82 99.16 L235.92 99.08 L237.02 98.99 L238.12 98.90 L239.22 98.81 L240.32 98.72 L241.42 98.63 L242.52 98.53 L243.62 98.44 L244.72 98.35 L245.82 98.25 L246.91 98.15 L248.01 98.05 L249.11 97.95 L250.21 97.85 L251.31 97.75 L252.41 97.64 L253.51 97.54 L254.61 97.43 L255.71 97.33 L256.81 97.22 L257.91 97.11 L259.01 97.00 L260.11 96.88 L261.21 96.77 L262.31 96.65 L263.41 96.54 L264.51 96.42 L265.61 96.30 L266.71 96.18 L267.81 96.06 L268.90 95.94 L270.00 95.81 L271.10 95.69 L272.20 95.56 L273.30 95.43 L274.40 95.30 L275.50 95.17 L276.60 95.04 L277.70 94.91 L278.80 94.77 L279.90 94.63 L281.00 94.50 L282.10 94.36 L283.20 94.22 L284.30 94.07 L285.40 93.93 L286.50 93.78 L287.60 93.64 L288.70 93.49 L289.80 93.34 L290.89 93.19 L291.99 93.04 L293.09 92.88 L294.19 92.73 L295.29 92.57 L296.39 92.41 L297.49 92.25 L298.59 92.09 L299.69 91.93 L300.79 91.76 L301.89 91.60 L302.99 91.43 L304.09 91.26 L305.19 91.09 L306.29 90.92 L307.39 90.74 L308.49 90.57 L309.59 90.39 L310.69 90.22 L311.79 90.04 L312.88 89.85 L313.98 89.67 L315.08 89.49 L316.18 89.30 L317.28 89.11 L318.38 88.92 L319.48 88.73 L320.58 88.54 L321.68 88.35 L322.78 88.15 L323.88 87.96 L324.98 87.76 L326.08 87.56 L327.18 87.36 L327.18 86.84 L327.50 86.97 L327.82 87.11 L328.14 87.24 L328.46 87.38 L328.77 87.51 L329.09 87.65 L329.40 87.79 L329.71 87.92 L330.02 88.06 L330.33 88.20 L330.64 88.34 L330.94 88.48 L331.25 88.62 L331.55 88.76 L331.85 88.91 L332.15 89.05 L332.45 89.19 L332.74 89.34 L333.04 89.48 L333.33 89.63 L333.62 89.78 L333.91 89.92 L334.20 90.07 L334.49 90.22 L334.78 90.37 L335.06 90.52 L335.34 90.67 L335.63 90.83 L335.91 90.98 L336.19 91.13 L336.46 91.29 L336.74 91.44 L337.02 91.60 L337.29 91.75 L337.56 91.91 L337.83 92.07 L338.10 92.23 L338.37 92.39 L338.64 92.55 L338.90 92.71 L339.17 92.87 L339.43 93.04 L339.69 93.20 L339.95 93.36 L340.21 93.53 L340.47 93.70 L340.73 93.86 L340.98 94.03 L341.23 94.20 L341.49 94.37 L341.74 94.54 L341.99 94.71 L342.24 94.88 L342.48 95.06 L342.73 95.23 L342.97 95.41 L343.22 95.58 L343.46 95.76 L343.70 95.94 L343.94 96.12 L344.18 96.30 L344.42 96.48 L344.65 96.66 L344.89 96.84 L345.12 97.03 L345.35 97.21 L345.59 97.40 L345.81 97.58 L346.04 97.77 L346.27 97.96 L346.50 98.15 L346.72 98.34 L346.95 98.53 L347.17 98.72 L347.39 98.91 L347.61 99.11 L347.83 99.30 L348.05 99.50 L348.26 99.70 L348.48 99.90 L348.70 100.10 L348.91 100.30 L349.12 100.50 L349.33 100.70 L349.54 100.91 L349.75 101.11 L349.96 101.32 L350.16 101.53 L350.37 101.74 L350.57 101.95 L350.78 102.16 L350.98 102.37 L351.18 102.58 L351.38 102.80 L351.58 103.01 L351.77 103.23 L351.97 103.45 L352.17 103.67 L352.36 103.89 L352.55 104.11 L352.74 104.34 L352.94 104.56 L353.12 104.79 L353.31 105.02 L353.50 105.24 L353.69 105.47 L353.87 105.71 L354.06 105.94 L354.24 106.17 L354.42 106.41 L354.60 106.64 L354.78 106.88 L354.96 107.12 L355.14 107.36 L355.32 107.61 L355.49 107.85 L355.67 108.10 L355.84 108.34 L356.01 108.59 L356.18 108.84 L356.35 109.09 L356.52 109.35 L356.69 109.60 L356.86 109.86 L357.03 110.11 L357.19 110.37 L357.35 110.64 L357.52 110.90 L357.68 111.16 L357.84 111.43 L358.00 111.70 L358.16 111.97 L358.32 112.24 L358.48 112.51 L358.63 112.79 L358.79 113.06 L358.94 113.34 L359.09 113.62 L359.25 113.90 L359.40 114.19 L359.55 114.47 L359.70 114.76 L359.84 115.05 L359.99 115.34 L360.14 115.64 L360.28 115.93 L360.43 116.23 L360.57 116.53 L360.71 116.83 L360.85 117.13 L360.99 117.44 L361.13 117.75 L361.27 118.06 L361.41 118.37 L361.54 118.69 L361.68 119.00 L361.81 119.32 L361.94 119.64 L362.08 119.97 L362.21 120.29 L362.34 120.62 L362.47 120.95 L362.60 121.29 L362.72 121.62 L362.85 121.96 L362.98 122.30 L363.10 122.65 L363.22 122.99 L363.35 123.34 L363.47 123.70 L363.59 124.05 L363.71 124.41 L363.83 124.77 L363.95 125.13 L364.06 125.50 L364.18 125.87 L364.30 126.24 L364.41 126.61 L364.52 126.99 L364.64 127.37 L364.75 127.76 L364.86 128.14 L364.97 128.53 L365.08 128.93 L365.18 129.33 L365.29 129.73 L365.40 130.13 L365.50 130.54 L365.61 130.95 L365.71 131.37 L365.81 131.79 L365.91 132.21 L366.01 132.63 L366.11 133.07 L366.21 133.50 L366.31 133.94 L366.41 134.38 L366.50 134.83 L366.60 135.28 L366.69 135.73 L366.79 136.19 L366.88 136.66 L366.97 137.13 L367.06 137.60 L367.15 138.08 L367.24 138.56 L367.33 139.05 L367.41 139.54 L367.50 140.04 L367.58 140.54 L367.67 141.05 L367.75 141.56 L367.83 142.08 L367.92 142.61 L368.00 143.14 L368.08 143.68 L368.16 144.22 L368.23 144.77 L368.31 145.32 L368.39 145.89 L368.46 146.45 L368.54 147.03 L368.61 147.61 L368.68 148.20 L368.76 148.79 L368.83 149.40 L368.90 150.01 L368.97 150.63 L369.04 151.25 L369.10 151.89 L369.17 152.53 L369.24 153.18 L369.30 153.84 L369.36 154.51 L369.43 155.19 L369.49 155.88 L369.55 156.57 L369.61 157.28 L369.67 158.00 L369.73 158.72 L369.79 159.46 L369.85 160.21 L369.90 160.97 L369.96 161.75 L370.01 162.53 L370.07 163.33 L370.12 164.14 L370.17 164.97 L370.22 165.80 L370.27 166.66 L370.32 167.52 L370.37 168.41 L370.42 169.30 L370.46 170.22 L370.51 171.15 L370.56 172.10 L370.60 173.07 L370.64 174.05 L370.69 175.06 L370.73 176.09 L370.77 177.13 L370.81 178.20 L370.85 179.30 L370.89 180.42 L370.92 181.56 L370.96 182.73 L371.00 183.93 L371.03 185.15 L371.07 186.41 L371.10 187.70 L371.13 189.02 L371.16 190.38 L371.19 191.78 L371.22 193.21 L371.25 194.69 L371.28 196.21 L371.31 197.78 L371.33 199.40 L371.36 201.07 L371.39 202.80 L371.41 204.59 L371.43 206.44 L371.45 208.36 L371.48 210.37 L371.50 212.45 L371.52 214.62 L371.54 216.89 L371.55 219.26 L371.57 221.75 L371.59 224.37 L371.60 227.13 L371.62 230.04 L371.63 233.14 L371.64 236.43 L371.66 239.96 L371.67 243.74 L371.68 247.83 L371.69 252.27 L371.70 257.14 L371.70 262.51 L371.71 268.53 L371.72 275.35 L371.72 283.22 L371.73 292.53 L371.73 303.93 L371.73 318.62 L371.74 339.32 L371.74 369.40 L371.74 368.40 Z" fill="rgba(255,128,0,0.3)" fill-rule="evenodd"/>
</g>
<rect x="64.40" y="21.40" width="431.10" height="345.00" fill="none" stroke="rgba(0,0,0,0.22)" stroke-width="0.8"/>
<g clip-path="url(#cp)" fill="none" stroke-width="1.8" stroke-linejoin="round">
<path d="M60.00 66.40 L61.10 66.39 L62.20 66.38 L63.30 66.38 L64.40 66.37 L65.50 66.36 L66.60 66.36 L67.70 66.35 L68.80 66.34 L69.90 66.33 L70.99 66.32 L72.09 66.32 L73.19 66.31 L74.29 66.30 L75.39 66.29 L76.49 66.28 L77.59 66.28 L78.69 66.27 L79.79 66.26 L80.89 66.25 L81.99 66.24 L83.09 66.23 L84.19 66.22 L85.29 66.22 L86.39 66.21 L87.49 66.20 L88.59 66.19 L89.69 66.18 L90.79 66.17 L91.89 66.16 L92.98 66.15 L94.08 66.14 L95.18 66.13 L96.28 66.12 L97.38 66.11 L98.48 66.10 L99.58 66.09 L100.68 66.08 L101.78 66.07 L102.88 66.05 L103.98 66.04 L105.08 66.03 L106.18 66.02 L107.28 66.01 L108.38 66.00 L109.48 65.99 L110.58 65.97 L111.68 65.96 L112.78 65.95 L113.88 65.94 L114.97 65.92 L116.07 65.91 L117.17 65.90 L118.27 65.88 L119.37 65.87 L120.47 65.86 L121.57 65.84 L122.67 65.83 L123.77 65.82 L124.87 65.80 L125.97 65.79 L127.07 65.77 L128.17 65.76 L129.27 65.74 L130.37 65.73 L131.47 65.71 L132.57 65.70 L133.67 65.68 L134.77 65.67 L135.87 65.65 L136.96 65.63 L138.06 65.62 L139.16 65.60 L140.26 65.58 L141.36 65.57 L142.46 65.55 L143.56 65.53 L144.66 65.51 L145.76 65.49 L146.86 65.48 L147.96 65.46 L149.06 65.44 L150.16 65.42 L151.26 65.40 L152.36 65.38 L153.46 65.36 L154.56 65.34 L155.66 65.32 L156.76 65.30 L157.86 65.28 L158.95 65.26 L160.05 65.24 L161.15 65.21 L162.25 65.19 L163.35 65.17 L164.45 65.15 L165.55 65.12 L166.65 65.10 L167.75 65.08 L168.85 65.05 L169.95 65.03 L171.05 65.00 L172.15 64.98 L173.25 64.96 L174.35 64.93 L175.45 64.90 L176.55 64.88 L177.65 64.85 L178.75 64.82 L179.85 64.80 L180.94 64.77 L182.04 64.74 L183.14 64.71 L184.24 64.69 L185.34 64.66 L186.44 64.63 L187.54 64.60 L188.64 64.57 L189.74 64.54 L190.84 64.51 L191.94 64.48 L193.04 64.44 L194.14 64.41 L195.24 64.38 L196.34 64.35 L197.44 64.31 L198.54 64.28 L199.64 64.25 L200.74 64.21 L201.84 64.18 L202.93 64.14 L204.03 64.10 L205.13 64.07 L206.23 64.03 L207.33 63.99 L208.43 63.96 L209.53 63.92 L210.63 63.88 L211.73 63.84 L212.83 63.80 L213.93 63.76 L215.03 63.72 L216.13 63.68 L217.23 63.64 L218.33 63.59 L219.43 63.55 L220.53 63.51 L221.63 63.46 L222.73 63.42 L223.83 63.37 L224.92 63.33 L226.02 63.28 L227.12 63.23 L228.22 63.19 L229.32 63.14 L230.42 63.09 L231.52 63.04 L232.62 62.99 L233.72 62.94 L234.82 62.89 L235.92 62.84 L237.02 62.78 L238.12 62.73 L239.22 62.68 L240.32 62.62 L241.42 62.57 L242.52 62.51 L243.62 62.46 L244.72 62.40 L245.82 62.34 L246.91 62.28 L248.01 62.22 L249.11 62.16 L250.21 62.10 L251.31 62.04 L252.41 61.98 L253.51 61.91 L254.61 61.85 L255.71 61.78 L256.81 61.72 L257.91 61.65 L259.01 61.59 L260.11 61.52 L261.21 61.45 L262.31 61.38 L263.41 61.31 L264.51 61.24 L265.61 61.16 L266.71 61.09 L267.81 61.02 L268.90 60.94 L270.00 60.87 L271.10 60.79 L272.20 60.71 L273.30 60.63 L274.40 60.56 L275.50 60.48 L276.60 60.39 L277.70 60.31 L278.80 60.23 L279.90 60.14 L281.00 60.06 L282.10 59.97 L283.20 59.89 L284.30 59.80 L285.40 59.71 L286.50 59.62 L287.60 59.53 L288.70 59.44 L289.80 59.34 L290.89 59.25 L291.99 59.15 L293.09 59.06 L294.19 58.96 L295.29 58.86 L296.39 58.76 L297.49 58.66 L298.59 58.56 L299.69 58.45 L300.79 58.35 L301.89 58.24 L302.99 58.14 L304.09 58.03 L305.19 57.92 L306.29 57.81 L307.39 57.70 L308.49 57.59 L309.59 57.47 L310.69 57.36 L311.79 57.24 L312.88 57.13 L313.98 57.01 L315.08 56.89 L316.18 56.77 L317.28 56.64 L318.38 56.52 L319.48 56.40 L320.58 56.27 L321.68 56.14 L322.78 56.01 L323.88 55.88 L324.98 55.75 L326.08 55.62 L327.18 55.49 L328.28 55.35 L329.38 55.21 L330.48 55.08 L331.58 54.94 L332.68 54.80 L333.78 54.65 L334.87 54.51 L335.97 54.37 L337.07 54.22 L338.17 54.07 L339.27 53.92 L340.37 53.77 L341.47 53.62 L342.57 53.47 L343.67 53.31 L344.77 53.16 L345.87 53.00 L346.97 52.84 L348.07 52.68 L349.17 52.52 L350.27 52.36 L351.37 52.19 L352.47 52.02 L353.57 51.86 L354.67 51.69 L355.77 51.52 L356.86 51.34 L357.96 51.17 L359.06 51.00 L360.16 50.82 L361.26 50.64 L362.36 50.46 L363.46 50.28 L364.56 50.10 L365.66 49.91 L366.76 49.73 L367.86 49.54 L368.96 49.35 L370.06 49.16 L371.16 48.97 L372.26 48.78 L373.36 48.58 L374.46 48.39 L375.56 48.19 L376.66 47.99 L377.76 47.79 L378.85 47.59 L379.95 47.39 L381.05 47.18 L382.15 46.97 L383.25 46.77 L384.35 46.56 L385.45 46.35 L386.55 46.13 L387.65 45.92 L388.75 45.70 L389.85 45.49 L390.95 45.27 L392.05 45.05 L393.15 44.83 L394.25 44.60 L395.35 44.38 L396.45 44.15 L397.55 43.92 L398.65 43.69 L399.75 43.46 L400.84 43.23 L401.94 43.00 L403.04 42.76 L404.14 42.53 L405.24 42.29 L406.34 42.05 L407.44 41.81 L408.54 41.57 L409.64 41.32 L410.74 41.08 L411.84 40.83 L412.94 40.58 L414.04 40.33 L415.14 40.08 L416.24 39.83 L417.34 39.58 L418.44 39.32 L419.54 39.06 L420.64 38.81 L421.74 38.55 L422.83 38.29 L423.93 38.02 L425.03 37.76 L426.13 37.50 L427.23 37.23 L428.33 36.96 L429.43 36.69 L430.53 36.42 L431.63 36.15 L432.73 35.88 L433.83 35.60 L434.93 35.33 L436.03 35.05 L437.13 34.77 L438.23 34.49 L439.33 34.21 L440.43 33.93 L441.53 33.65 L442.63 33.36 L443.73 33.08 L444.82 32.79 L445.92 32.50 L447.02 32.21 L448.12 31.92 L449.22 31.63 L450.32 31.34 L451.42 31.04 L452.52 30.75 L453.62 30.45 L454.72 30.16 L455.82 29.86 L456.92 29.56 L458.02 29.26 L459.12 28.95 L460.22 28.65 L461.32 28.35 L462.42 28.04 L463.52 27.73 L464.62 27.43 L465.72 27.12 L466.81 26.81 L467.91 26.50 L469.01 26.18 L470.11 25.87 L471.21 25.56 L472.31 25.24 L473.41 24.93 L474.51 24.61 L475.61 24.29 L476.71 23.97 L477.81 23.65 L478.91 23.33 L480.01 23.01 L481.11 22.69 L482.21 22.36 L483.31 22.04 L484.41 21.71 L485.51 21.39 L486.61 21.06 L487.71 20.73 L488.80 20.40 L489.90 20.07 L491.00 19.74 L492.10 19.41 L493.20 19.07 L494.30 18.74 L495.40 18.41 L496.50 18.07 L497.60 17.74 L498.70 17.40" stroke="#ff00ff"/>
<path d="M373.40 369.40 L373.40 368.70 L373.40 367.99 L373.40 367.29 L373.40 366.59 L373.40 365.88 L373.40 365.18 L373.40 364.47 L373.40 363.77 L373.40 363.07 L373.40 362.36 L373.40 361.66 L373.40 360.96 L373.40 360.25 L373.40 359.55 L373.40 358.85 L373.40 358.14 L373.40 357.44 L373.40 356.74 L373.40 356.03 L373.40 355.33 L373.40 354.62 L373.40 353.92 L373.40 353.22 L373.40 352.51 L373.40 351.81 L373.40 351.11 L373.40 350.40 L373.40 349.70 L373.40 349.00 L373.40 348.29 L373.40 347.59 L373.40 346.88 L373.40 346.18 L373.40 345.48 L373.39 344.77 L373.39 344.07 L373.39 343.37 L373.39 342.66 L373.39 341.96 L373.39 341.26 L373.39 340.55 L373.39 339.85 L373.39 339.14 L373.39 338.44 L373.39 337.74 L373.39 337.03 L373.39 336.33 L373.39 335.63 L373.39 334.92 L373.39 334.22 L373.39 333.52 L373.39 332.81 L373.39 332.11 L373.39 331.41 L373.39 330.70 L373.39 330.00 L373.39 329.29 L373.39 328.59 L373.39 327.89 L373.39 327.18 L373.39 326.48 L373.39 325.78 L373.39 325.07 L373.39 324.37 L373.39 323.67 L373.39 322.96 L373.39 322.26 L373.39 321.55 L373.39 320.85 L373.39 320.15 L373.39 319.44 L373.39 318.74 L373.39 318.04 L373.39 317.33 L373.39 316.63 L373.39 315.93 L373.39 315.22 L373.39 314.52 L373.39 313.82 L373.39 313.11 L373.39 312.41 L373.39 311.70 L373.39 311.00 L373.39 310.30 L373.39 309.59 L373.39 308.89 L373.39 308.19 L373.39 307.48 L373.39 306.78 L373.39 306.08 L373.39 305.37 L373.39 304.67 L373.39 303.96 L373.39 303.26 L373.39 302.56 L373.39 301.85 L373.39 301.15 L373.39 300.45 L373.39 299.74 L373.39 299.04 L373.39 298.34 L373.39 297.63 L373.39 296.93 L373.39 296.22 L373.39 295.52 L373.39 294.82 L373.39 294.11 L373.39 293.41 L373.39 292.71 L373.39 292.00 L373.39 291.30 L373.39 290.60 L373.39 289.89 L373.39 289.19 L373.39 288.49 L373.39 287.78 L373.39 287.08 L373.39 286.37 L373.39 285.67 L373.39 284.97 L373.39 284.26 L373.39 283.56 L373.39 282.86 L373.39 282.15 L373.39 281.45 L373.39 280.75 L373.39 280.04 L373.39 279.34 L373.39 278.63 L373.39 277.93 L373.39 277.23 L373.40 276.52 L373.40 275.82 L373.40 275.12 L373.40 274.41 L373.40 273.71 L373.40 273.01 L373.40 272.30 L373.40 271.60 L373.40 270.89 L373.40 270.19 L373.40 269.49 L373.40 268.78 L373.40 268.08 L373.40 267.38 L373.40 266.67 L373.40 265.97 L373.40 265.27 L373.40 264.56 L373.40 263.86 L373.40 263.16 L373.40 262.45 L373.40 261.75 L373.40 261.04 L373.40 260.34 L373.40 259.64 L373.40 258.93 L373.40 258.23 L373.41 257.53 L373.41 256.82 L373.41 256.12 L373.41 255.42 L373.41 254.71 L373.41 254.01 L373.41 253.30 L373.41 252.60 L373.41 251.90 L373.41 251.19 L373.41 250.49 L373.41 249.79 L373.42 249.08 L373.42 248.38 L373.42 247.68 L373.42 246.97 L373.42 246.27 L373.42 245.57 L373.42 244.86 L373.42 244.16 L373.42 243.45 L373.43 242.75 L373.43 242.05 L373.43 241.34 L373.43 240.64 L373.43 239.94 L373.43 239.23 L373.44 238.53 L373.44 237.83 L373.44 237.12 L373.44 236.42 L373.44 235.71 L373.44 235.01 L373.45 234.31 L373.45 233.60 L373.45 232.90 L373.45 232.20 L373.46 231.49 L373.46 230.79 L373.46 230.09 L373.46 229.38 L373.47 228.68 L373.47 227.97 L373.47 227.27 L373.47 226.57 L373.48 225.86 L373.48 225.16 L373.48 224.46 L373.49 223.75 L373.49 223.05 L373.49 222.35 L373.50 221.64 L373.50 220.94 L373.50 220.24 L373.51 219.53 L373.51 218.83 L373.52 218.12 L373.52 217.42 L373.53 216.72 L373.53 216.01 L373.53 215.31 L373.54 214.61 L373.54 213.90 L373.55 213.20 L373.56 212.50 L373.56 211.79 L373.57 211.09 L373.57 210.38 L373.58 209.68 L373.58 208.98 L373.59 208.27 L373.60 207.57 L373.60 206.87 L373.61 206.16 L373.62 205.46 L373.63 204.76 L373.63 204.05 L373.64 203.35 L373.65 202.65 L373.66 201.94 L373.67 201.24 L373.68 200.53 L373.69 199.83 L373.70 199.13 L373.70 198.42 L373.71 197.72 L373.73 197.02 L373.74 196.31 L373.75 195.61 L373.76 194.91 L373.77 194.20 L373.78 193.50 L373.79 192.79 L373.81 192.09 L373.82 191.39 L373.83 190.68 L373.85 189.98 L373.86 189.28 L373.88 188.57 L373.89 187.87 L373.91 187.17 L373.92 186.46 L373.94 185.76 L373.96 185.05 L373.98 184.35 L373.99 183.65 L374.01 182.94 L374.03 182.24 L374.05 181.54 L374.07 180.83 L374.09 180.13 L374.11 179.43 L374.14 178.72 L374.16 178.02 L374.18 177.32 L374.21 176.61 L374.23 175.91 L374.26 175.20 L374.28 174.50 L374.31 173.80 L374.34 173.09 L374.37 172.39 L374.40 171.69 L374.43 170.98 L374.46 170.28 L374.49 169.58 L374.52 168.87 L374.56 168.17 L374.59 167.46 L374.63 166.76 L374.66 166.06 L374.70 165.35 L374.74 164.65 L374.78 163.95 L374.82 163.24 L374.86 162.54 L374.91 161.84 L374.95 161.13 L375.00 160.43 L375.05 159.73 L375.10 159.02 L375.15 158.32 L375.20 157.61 L375.25 156.91 L375.30 156.21 L375.36 155.50 L375.42 154.80 L375.48 154.10 L375.54 153.39 L375.60 152.69 L375.66 151.99 L375.73 151.28 L375.80 150.58 L375.87 149.87 L375.94 149.17 L376.01 148.47 L376.09 147.76 L376.17 147.06 L376.25 146.36 L376.33 145.65 L376.41 144.95 L376.50 144.25 L376.59 143.54 L376.68 142.84 L376.77 142.13 L376.87 141.43 L376.97 140.73 L377.07 140.02 L377.18 139.32 L377.28 138.62 L377.39 137.91 L377.51 137.21 L377.62 136.51 L377.74 135.80 L377.87 135.10 L377.99 134.40 L378.12 133.69 L378.25 132.99 L378.39 132.28 L378.53 131.58 L378.67 130.88 L378.82 130.17 L378.97 129.47 L379.13 128.77 L379.28 128.06 L379.45 127.36 L379.62 126.66 L379.79 125.95 L379.96 125.25 L380.14 124.54 L380.33 123.84 L380.52 123.14 L380.71 122.43 L380.91 121.73 L381.12 121.03 L381.33 120.32 L381.54 119.62 L381.77 118.92 L381.99 118.21 L382.22 117.51 L382.46 116.81 L382.71 116.10 L382.95 115.40 L383.21 114.69 L383.47 113.99 L383.74 113.29 L384.02 112.58 L384.30 111.88 L384.59 111.18 L384.88 110.47 L385.18 109.77 L385.49 109.07 L385.81 108.36 L386.14 107.66 L386.47 106.95 L386.81 106.25 L387.15 105.55 L387.51 104.84 L387.87 104.14 L388.25 103.44 L388.63 102.73 L389.02 102.03 L389.41 101.33 L389.82 100.62 L390.24 99.92 L390.66 99.21 L391.09 98.51 L391.54 97.81 L391.99 97.10 L392.45 96.40 L392.93 95.70 L393.41 94.99 L393.90 94.29 L394.41 93.59 L394.92 92.88 L395.44 92.18 L395.98 91.48 L396.52 90.77 L397.08 90.07 L397.65 89.36 L398.23 88.66 L398.82 87.96 L399.42 87.25 L400.03 86.55 L400.66 85.85 L401.30 85.14 L401.94 84.44 L402.61 83.74 L403.28 83.03 L403.96 82.33 L404.66 81.62 L405.37 80.92 L406.09 80.22 L406.83 79.51 L407.58 78.81 L408.34 78.11 L409.11 77.40 L409.90 76.70 L410.70 76.00 L411.51 75.29 L412.34 74.59 L413.17 73.88 L414.03 73.18 L414.89 72.48 L415.77 71.77 L416.66 71.07 L417.57 70.37 L418.49 69.66 L419.42 68.96 L420.37 68.26 L421.32 67.55 L422.30 66.85 L423.28 66.15 L424.28 65.44 L425.30 64.74 L426.32 64.03 L427.36 63.33 L428.41 62.63 L429.48 61.92 L430.56 61.22 L431.65 60.52 L432.76 59.81 L433.88 59.11 L435.01 58.41 L436.16 57.70 L437.31 57.00 L438.49 56.29 L439.67 55.59 L440.87 54.89 L442.08 54.18 L443.30 53.48 L444.53 52.78 L445.78 52.07 L447.04 51.37 L448.31 50.67 L449.59 49.96 L450.89 49.26 L452.20 48.56 L453.52 47.85 L454.85 47.15 L456.19 46.44 L457.54 45.74 L458.91 45.04 L460.28 44.33 L461.67 43.63 L463.07 42.93 L464.48 42.22 L465.90 41.52 L467.33 40.82 L468.77 40.11 L470.22 39.41 L471.68 38.70 L473.15 38.00 L474.63 37.30 L476.12 36.59 L477.62 35.89 L479.13 35.19 L480.65 34.48 L482.18 33.78 L483.71 33.08 L485.26 32.37 L486.81 31.67 L488.38 30.96 L489.95 30.26 L491.53 29.56 L493.11 28.85 L494.71 28.15 L496.31 27.45 L497.92 26.74 L499.54 26.04 L501.17 25.34 L502.80 24.63 L504.44 23.93 L506.09 23.23 L507.74 22.52 L509.40 21.82 L511.07 21.11 L512.74 20.41 L514.42 19.71 L516.11 19.00 L517.80 18.30" stroke="#ff00ff"/>
<path d="M60.00 45.51 L64.83 45.52 L69.49 45.53 L74.01 45.54 L78.38 45.55 L82.62 45.56 L86.74 45.57 L90.74 45.58 L94.63 45.60 L98.41 45.61 L102.09 45.62 L105.68 45.63 L109.18 45.65 L112.59 45.66 L115.93 45.67 L119.18 45.69 L122.36 45.70 L125.47 45.71 L128.51 45.73 L131.49 45.74 L134.40 45.76 L137.26 45.78 L140.05 45.79 L142.80 45.81 L145.48 45.83 L148.12 45.84 L150.71 45.86 L153.25 45.88 L155.75 45.90 L158.20 45.91 L160.60 45.93 L162.97 45.95 L165.30 45.97 L167.59 45.99 L169.84 46.01 L172.05 46.03 L174.23 46.05 L176.38 46.07 L178.49 46.09 L180.57 46.12 L182.62 46.14 L184.64 46.16 L186.63 46.18 L188.59 46.21 L190.52 46.23 L192.43 46.25 L194.31 46.28 L196.17 46.30 L197.99 46.33 L199.80 46.35 L201.58 46.38 L203.34 46.40 L205.08 46.43 L206.79 46.46 L208.48 46.48 L210.16 46.51 L211.81 46.54 L213.44 46.56 L215.05 46.59 L216.64 46.62 L218.22 46.65 L219.77 46.68 L221.31 46.71 L222.83 46.74 L224.34 46.77 L225.82 46.80 L227.29 46.83 L228.75 46.86 L230.19 46.89 L231.61 46.92 L233.02 46.95 L234.41 46.99 L235.79 47.02 L237.16 47.05 L238.51 47.09 L239.84 47.12 L241.17 47.15 L242.48 47.19 L243.78 47.22 L245.06 47.26 L246.33 47.29 L247.59 47.33 L248.84 47.37 L250.08 47.40 L251.30 47.44 L252.52 47.48 L253.72 47.51 L254.91 47.55 L256.09 47.59 L257.26 47.63 L258.42 47.67 L259.57 47.71 L260.71 47.75 L261.83 47.79 L262.95 47.83 L264.06 47.87 L265.16 47.91 L266.25 47.95 L267.33 47.99 L268.40 48.03 L269.47 48.08 L270.52 48.12 L271.57 48.16 L272.60 48.21 L273.63 48.25 L274.65 48.29 L275.66 48.34 L276.67 48.38 L277.66 48.43 L278.65 48.47 L279.63 48.52 L280.60 48.57 L281.57 48.61 L282.53 48.66 L283.48 48.71 L284.42 48.76 L285.36 48.80 L286.29 48.85 L287.21 48.90 L288.12 48.95 L289.03 49.00 L289.93 49.05 L290.83 49.10 L291.72 49.15 L292.60 49.20 L293.47 49.26 L294.34 49.31 L295.21 49.36 L296.06 49.41 L296.91 49.46 L297.76 49.52 L298.60 49.57 L299.43 49.63 L300.26 49.68 L301.08 49.74 L301.90 49.79 L302.71 49.85 L303.51 49.90 L304.31 49.96 L305.11 50.02 L305.90 50.07 L306.68 50.13 L307.46 50.19 L308.23 50.25 L309.00 50.31 L309.76 50.37 L310.52 50.42 L311.28 50.48 L312.02 50.55 L312.77 50.61 L313.51 50.67 L314.24 50.73 L314.97 50.79 L315.69 50.85 L316.42 50.92 L317.13 50.98 L317.84 51.04 L318.55 51.11 L319.25 51.17 L319.95 51.23 L320.64 51.30 L321.33 51.37 L322.02 51.43 L322.70 51.50 L323.38 51.56 L324.05 51.63 L324.72 51.70 L325.38 51.77 L326.04 51.83 L326.70 51.90 L327.35 51.97 L328.00 52.04 L328.65 52.11 L329.29 52.18 L329.92 52.25 L330.56 52.32 L331.19 52.40 L331.81 52.47 L332.44 52.54 L333.06 52.61 L333.67 52.69 L334.28 52.76 L334.89 52.84 L335.50 52.91 L336.10 52.98 L336.70 53.06 L337.29 53.14 L337.88 53.21 L338.47 53.29 L339.05 53.37 L339.64 53.44 L340.21 53.52 L340.79 53.60 L341.36 53.68 L341.93 53.76 L342.49 53.84 L343.05 53.92 L343.61 54.00 L344.17 54.08 L344.72 54.16 L345.27 54.25 L345.82 54.33 L346.36 54.41 L346.90 54.49 L347.44 54.58 L347.98 54.66 L348.51 54.75 L349.04 54.83 L349.56 54.92 L350.09 55.00 L350.61 55.09 L351.13 55.18 L351.64 55.27 L352.15 55.35 L352.66 55.44 L353.17 55.53 L353.67 55.62 L354.18 55.71 L354.67 55.80 L355.17 55.89 L355.66 55.98 L356.16 56.08 L356.64 56.17 L357.13 56.26 L357.61 56.36 L358.09 56.45 L358.57 56.54 L359.05 56.64 L359.52 56.73 L359.99 56.83 L360.46 56.93 L360.93 57.02 L361.39 57.12 L361.85 57.22 L362.31 57.32 L362.77 57.42 L363.22 57.52 L363.67 57.62 L364.12 57.72 L364.57 57.82 L365.01 57.92 L365.45 58.02 L365.90 58.12 L366.33 58.23 L366.77 58.33 L367.20 58.43 L367.63 58.54 L368.06 58.64 L368.49 58.75 L368.91 58.86 L369.34 58.96 L369.76 59.07 L370.18 59.18 L370.59 59.29 L371.01 59.39 L371.42 59.50 L371.83 59.61 L372.24 59.73 L372.64 59.84 L373.05 59.95 L373.45 60.06 L373.85 60.17 L374.24 60.29 L374.64 60.40 L375.03 60.52 L375.43 60.63 L375.82 60.75 L376.20 60.86 L376.59 60.98 L376.97 61.10 L377.36 61.22 L377.74 61.33 L378.11 61.45 L378.49 61.57 L378.86 61.69 L379.24 61.82 L379.61 61.94 L379.98 62.06 L380.34 62.18 L380.71 62.31 L381.07 62.43 L381.43 62.56 L381.79 62.68 L382.15 62.81 L382.51 62.93 L382.86 63.06 L383.21 63.19 L383.57 63.32 L383.91 63.45 L384.26 63.58 L384.61 63.71 L384.95 63.84 L385.29 63.97 L385.63 64.10 L385.97 64.24 L386.31 64.37 L386.64 64.51 L386.98 64.64 L387.31 64.78 L387.64 64.91 L387.97 65.05 L388.30 65.19 L388.62 65.33 L388.95 65.47 L389.27 65.61 L389.59 65.75 L389.91 65.89 L390.22 66.03 L390.54 66.17 L390.85 66.32 L391.17 66.46 L391.48 66.61 L391.79 66.75 L392.10 66.90 L392.40 67.05 L392.71 67.20 L393.01 67.35 L393.31 67.49 L393.61 67.65 L393.91 67.80 L394.21 67.95 L394.50 68.10 L394.80 68.25 L395.09 68.41 L395.38 68.56 L395.67 68.72 L395.96 68.88 L396.25 69.03 L396.53 69.19 L396.82 69.35 L397.10 69.51 L397.38 69.67 L397.66 69.83 L397.94 70.00 L398.21 70.16 L398.49 70.32 L398.76 70.49 L399.03 70.65 L399.31 70.82 L399.57 70.99 L399.84 71.16 L400.11 71.32 L400.38 71.49 L400.64 71.67 L400.90 71.84 L401.16 72.01 L401.42 72.18 L401.68 72.36 L401.94 72.53 L402.19 72.71 L402.45 72.89 L402.70 73.07 L402.95 73.25 L403.20 73.43 L403.45 73.61 L403.70 73.79 L403.95 73.97 L404.19 74.16 L404.44 74.34 L404.68 74.53 L404.92 74.71 L405.16 74.90 L405.40 75.09 L405.64 75.28 L405.87 75.47 L406.11 75.67 L406.34 75.86 L406.57 76.05 L406.81 76.25 L407.04 76.44 L407.26 76.64 L407.49 76.84 L407.72 77.04 L407.94 77.24 L408.17 77.44 L408.39 77.65 L408.61 77.85 L408.83 78.06 L409.05 78.26 L409.26 78.47 L409.48 78.68 L409.70 78.89 L409.91 79.10 L410.12 79.31 L410.33 79.53 L410.54 79.74 L410.75 79.96 L410.96 80.17 L411.17 80.39 L411.37 80.61 L411.58 80.83 L411.78 81.06 L411.98 81.28 L412.18 81.50 L412.38 81.73 L412.58 81.96 L412.78 82.19 L412.97 82.42 L413.17 82.65 L413.36 82.88 L413.56 83.12 L413.75 83.35 L413.94 83.59 L414.13 83.83 L414.31 84.07 L414.50 84.31 L414.69 84.55 L414.87 84.80 L415.06 85.04 L415.24 85.29 L415.42 85.54 L415.60 85.79 L415.78 86.04 L415.96 86.30 L416.13 86.55 L416.31 86.81 L416.48 87.07 L416.66 87.33 L416.83 87.59 L417.00 87.85 L417.17 88.12 L417.34 88.38 L417.51 88.65 L417.68 88.92 L417.84 89.19 L418.01 89.47 L418.17 89.74 L418.33 90.02 L418.49 90.30 L418.65 90.58 L418.81 90.86 L418.97 91.15 L419.13 91.44 L419.29 91.72 L419.44 92.02 L419.60 92.31 L419.75 92.60 L419.90 92.90 L420.05 93.20 L420.20 93.50 L420.35 93.80 L420.50 94.11 L420.65 94.42 L420.79 94.72 L420.94 95.04 L421.08 95.35 L421.22 95.67 L421.36 95.98 L421.51 96.31 L421.65 96.63 L421.78 96.95 L421.92 97.28 L422.06 97.61 L422.19 97.95 L422.33 98.28 L422.46 98.62 L422.59 98.96 L422.73 99.30 L422.86 99.65 L422.99 100.00 L423.12 100.35 L423.24 100.70 L423.37 101.06 L423.49 101.42 L423.62 101.78 L423.74 102.15 L423.87 102.51 L423.99 102.88 L424.11 103.26 L424.23 103.64 L424.35 104.02 L424.46 104.40 L424.58 104.79 L424.70 105.18 L424.81 105.57 L424.92 105.97 L425.04 106.37 L425.15 106.77 L425.26 107.18 L425.37 107.59 L425.48 108.00 L425.59 108.42 L425.69 108.85 L425.80 109.27 L425.90 109.70 L426.01 110.13 L426.11 110.57 L426.21 111.01 L426.32 111.46 L426.42 111.91 L426.51 112.37 L426.61 112.82 L426.71 113.29 L426.81 113.76 L426.90 114.23 L427.00 114.71 L427.09 115.19 L427.18 115.68 L427.27 116.17 L427.37 116.67 L427.46 117.17 L427.54 117.68 L427.63 118.19 L427.72 118.71 L427.81 119.23 L427.89 119.76 L427.97 120.30 L428.06 120.84 L428.14 121.39 L428.22 121.95 L428.30 122.51 L428.38 123.07 L428.46 123.65 L428.54 124.23 L428.61 124.82 L428.69 125.41 L428.77 126.02 L428.84 126.63 L428.91 127.24 L428.98 127.87 L429.06 128.50 L429.13 129.15 L429.20 129.80 L429.26 130.46 L429.33 131.12 L429.40 131.80 L429.46 132.49 L429.53 133.19 L429.59 133.89 L429.66 134.61 L429.72 135.34 L429.78 136.08 L429.84 136.83 L429.90 137.59 L429.96 138.36 L430.01 139.14 L430.07 139.94 L430.13 140.75 L430.18 141.58 L430.23 142.41 L430.29 143.27 L430.34 144.13 L430.39 145.01 L430.44 145.91 L430.49 146.83 L430.54 147.76 L430.59 148.71 L430.63 149.67 L430.68 150.66 L430.72 151.67 L430.77 152.69 L430.81 153.74 L430.85 154.81 L430.89 155.90 L430.94 157.02 L430.97 158.16 L431.01 159.33 L431.05 160.53 L431.09 161.76 L431.12 163.01 L431.16 164.30 L431.19 165.63 L431.23 166.98 L431.26 168.38 L431.29 169.81 L431.32 171.29 L431.35 172.81 L431.38 174.38 L431.41 176.00 L431.43 177.67 L431.46 179.40 L431.49 181.19 L431.51 183.04 L431.53 184.97 L431.56 186.97 L431.58 189.05 L431.60 191.22 L431.62 193.49 L431.64 195.86 L431.66 198.35 L431.67 200.97 L431.69 203.73 L431.70 206.65 L431.72 209.74 L431.73 213.03 L431.75 216.56 L431.76 220.34 L431.77 224.43 L431.78 228.87 L431.79 233.74 L431.80 239.12 L431.80 245.13 L431.81 251.95 L431.82 259.82 L431.82 269.13 L431.82 280.53 L431.83 295.22 L431.83 315.92 L431.83 351.31 L431.83 369.40" stroke="#ffff00"/>
<path d="M60.00 67.77 L63.08 67.78 L66.09 67.80 L69.04 67.81 L71.93 67.83 L74.76 67.84 L77.53 67.86 L80.25 67.87 L82.92 67.89 L85.54 67.91 L88.10 67.92 L90.63 67.94 L93.10 67.96 L95.54 67.97 L97.93 67.99 L100.28 68.01 L102.59 68.03 L104.86 68.05 L107.10 68.07 L109.30 68.09 L111.46 68.11 L113.59 68.13 L115.69 68.15 L117.76 68.17 L119.80 68.19 L121.80 68.21 L123.78 68.23 L125.73 68.25 L127.66 68.28 L129.55 68.30 L131.42 68.32 L133.27 68.35 L135.09 68.37 L136.88 68.39 L138.66 68.42 L140.41 68.44 L142.13 68.47 L143.84 68.49 L145.53 68.52 L147.19 68.54 L148.83 68.57 L150.46 68.60 L152.06 68.62 L153.65 68.65 L155.22 68.68 L156.77 68.70 L158.30 68.73 L159.81 68.76 L161.31 68.79 L162.79 68.82 L164.26 68.85 L165.70 68.88 L167.14 68.91 L168.56 68.94 L169.96 68.97 L171.35 69.00 L172.72 69.03 L174.08 69.06 L175.43 69.09 L176.76 69.12 L178.08 69.16 L179.39 69.19 L180.68 69.22 L181.96 69.26 L183.23 69.29 L184.49 69.32 L185.73 69.36 L186.97 69.39 L188.19 69.43 L189.40 69.46 L190.60 69.50 L191.78 69.54 L192.96 69.57 L194.13 69.61 L195.28 69.65 L196.43 69.68 L197.57 69.72 L198.69 69.76 L199.81 69.80 L200.92 69.84 L202.01 69.88 L203.10 69.92 L204.18 69.95 L205.25 69.99 L206.31 70.04 L207.36 70.08 L208.41 70.12 L209.44 70.16 L210.47 70.20 L211.49 70.24 L212.50 70.28 L213.50 70.33 L214.49 70.37 L215.48 70.41 L216.46 70.46 L217.43 70.50 L218.40 70.55 L219.35 70.59 L220.30 70.64 L221.24 70.68 L222.18 70.73 L223.11 70.77 L224.03 70.82 L224.94 70.87 L225.85 70.91 L226.75 70.96 L227.65 71.01 L228.53 71.06 L229.41 71.11 L230.29 71.16 L231.16 71.21 L232.02 71.26 L232.88 71.31 L233.73 71.36 L234.57 71.41 L235.41 71.46 L236.25 71.51 L237.07 71.56 L237.90 71.61 L238.71 71.67 L239.52 71.72 L240.33 71.77 L241.13 71.83 L241.92 71.88 L242.71 71.93 L243.50 71.99 L244.28 72.04 L245.05 72.10 L245.82 72.15 L246.58 72.21 L247.34 72.27 L248.09 72.32 L248.84 72.38 L249.59 72.44 L250.33 72.50 L251.06 72.55 L251.79 72.61 L252.52 72.67 L253.24 72.73 L253.95 72.79 L254.67 72.85 L255.37 72.91 L256.08 72.97 L256.78 73.03 L257.47 73.10 L258.16 73.16 L258.85 73.22 L259.53 73.28 L260.21 73.35 L260.88 73.41 L261.55 73.47 L262.22 73.54 L262.88 73.60 L263.54 73.67 L264.19 73.73 L264.84 73.80 L265.49 73.87 L266.13 73.93 L266.77 74.00 L267.41 74.07 L268.04 74.14 L268.66 74.20 L269.29 74.27 L269.91 74.34 L270.53 74.41 L271.14 74.48 L271.75 74.55 L272.36 74.62 L272.96 74.69 L273.56 74.77 L274.16 74.84 L274.75 74.91 L275.34 74.98 L275.93 75.05 L276.51 75.13 L277.09 75.20 L277.67 75.28 L278.24 75.35 L278.81 75.43 L279.38 75.50 L279.94 75.58 L280.50 75.65 L281.06 75.73 L281.62 75.81 L282.17 75.89 L282.72 75.96 L283.26 76.04 L283.81 76.12 L284.35 76.20 L284.88 76.28 L285.42 76.36 L285.95 76.44 L286.48 76.52 L287.00 76.60 L287.53 76.69 L288.05 76.77 L288.56 76.85 L289.08 76.93 L289.59 77.02 L290.10 77.10 L290.61 77.19 L291.11 77.27 L291.61 77.36 L292.11 77.44 L292.61 77.53 L293.10 77.62 L293.59 77.70 L294.08 77.79 L294.57 77.88 L295.05 77.97 L295.53 78.06 L296.01 78.15 L296.49 78.24 L296.96 78.33 L297.43 78.42 L297.90 78.51 L298.37 78.60 L298.83 78.69 L299.30 78.79 L299.76 78.88 L300.21 78.97 L300.67 79.07 L301.12 79.16 L301.57 79.26 L302.02 79.35 L302.46 79.45 L302.91 79.55 L303.35 79.64 L303.79 79.74 L304.22 79.84 L304.66 79.94 L305.09 80.04 L305.52 80.14 L305.95 80.24 L306.38 80.34 L306.80 80.44 L307.22 80.54 L307.64 80.64 L308.06 80.75 L308.48 80.85 L308.89 80.95 L309.30 81.06 L309.71 81.16 L310.12 81.27 L310.52 81.37 L310.93 81.48 L311.33 81.59 L311.73 81.69 L312.12 81.80 L312.52 81.91 L312.91 82.02 L313.31 82.13 L313.70 82.24 L314.08 82.35 L314.47 82.46 L314.85 82.57 L315.24 82.68 L315.62 82.79 L315.99 82.91 L316.37 83.02 L316.75 83.14 L317.12 83.25 L317.49 83.37 L317.86 83.48 L318.23 83.60 L318.59 83.72 L318.96 83.83 L319.32 83.95 L319.68 84.07 L320.04 84.19 L320.39 84.31 L320.75 84.43 L321.10 84.55 L321.45 84.68 L321.80 84.80 L322.15 84.92 L322.50 85.04 L322.84 85.17 L323.19 85.29 L323.53 85.42 L323.87 85.55 L324.21 85.67 L324.54 85.80 L324.88 85.93 L325.21 86.06 L325.54 86.19 L325.87 86.32 L326.20 86.45 L326.53 86.58 L326.86 86.71 L327.18 86.84 L327.50 86.97 L327.82 87.11 L328.14 87.24 L328.46 87.38 L328.77 87.51 L329.09 87.65 L329.40 87.79 L329.71 87.92 L330.02 88.06 L330.33 88.20 L330.64 88.34 L330.94 88.48 L331.25 88.62 L331.55 88.76 L331.85 88.91 L332.15 89.05 L332.45 89.19 L332.74 89.34 L333.04 89.48 L333.33 89.63 L333.62 89.78 L333.91 89.92 L334.20 90.07 L334.49 90.22 L334.78 90.37 L335.06 90.52 L335.34 90.67 L335.63 90.83 L335.91 90.98 L336.19 91.13 L336.46 91.29 L336.74 91.44 L337.02 91.60 L337.29 91.75 L337.56 91.91 L337.83 92.07 L338.10 92.23 L338.37 92.39 L338.64 92.55 L338.90 92.71 L339.17 92.87 L339.43 93.04 L339.69 93.20 L339.95 93.36 L340.21 93.53 L340.47 93.70 L340.73 93.86 L340.98 94.03 L341.23 94.20 L341.49 94.37 L341.74 94.54 L341.99 94.71 L342.24 94.88 L342.48 95.06 L342.73 95.23 L342.97 95.41 L343.22 95.58 L343.46 95.76 L343.70 95.94 L343.94 96.12 L344.18 96.30 L344.42 96.48 L344.65 96.66 L344.89 96.84 L345.12 97.03 L345.35 97.21 L345.59 97.40 L345.81 97.58 L346.04 97.77 L346.27 97.96 L346.50 98.15 L346.72 98.34 L346.95 98.53 L347.17 98.72 L347.39 98.91 L347.61 99.11 L347.83 99.30 L348.05 99.50 L348.26 99.70 L348.48 99.90 L348.70 100.10 L348.91 100.30 L349.12 100.50 L349.33 100.70 L349.54 100.91 L349.75 101.11 L349.96 101.32 L350.16 101.53 L350.37 101.74 L350.57 101.95 L350.78 102.16 L350.98 102.37 L351.18 102.58 L351.38 102.80 L351.58 103.01 L351.77 103.23 L351.97 103.45 L352.17 103.67 L352.36 103.89 L352.55 104.11 L352.74 104.34 L352.94 104.56 L353.12 104.79 L353.31 105.02 L353.50 105.24 L353.69 105.47 L353.87 105.71 L354.06 105.94 L354.24 106.17 L354.42 106.41 L354.60 106.64 L354.78 106.88 L354.96 107.12 L355.14 107.36 L355.32 107.61 L355.49 107.85 L355.67 108.10 L355.84 108.34 L356.01 108.59 L356.18 108.84 L356.35 109.09 L356.52 109.35 L356.69 109.60 L356.86 109.86 L357.03 110.11 L357.19 110.37 L357.35 110.64 L357.52 110.90 L357.68 111.16 L357.84 111.43 L358.00 111.70 L358.16 111.97 L358.32 112.24 L358.48 112.51 L358.63 112.79 L358.79 113.06 L358.94 113.34 L359.09 113.62 L359.25 113.90 L359.40 114.19 L359.55 114.47 L359.70 114.76 L359.84 115.05 L359.99 115.34 L360.14 115.64 L360.28 115.93 L360.43 116.23 L360.57 116.53 L360.71 116.83 L360.85 117.13 L360.99 117.44 L361.13 117.75 L361.27 118.06 L361.41 118.37 L361.54 118.69 L361.68 119.00 L361.81 119.32 L361.94 119.64 L362.08 119.97 L362.21 120.29 L362.34 120.62 L362.47 120.95 L362.60 121.29 L362.72 121.62 L362.85 121.96 L362.98 122.30 L363.10 122.65 L363.22 122.99 L363.35 123.34 L363.47 123.70 L363.59 124.05 L363.71 124.41 L363.83 124.77 L363.95 125.13 L364.06 125.50 L364.18 125.87 L364.30 126.24 L364.41 126.61 L364.52 126.99 L364.64 127.37 L364.75 127.76 L364.86 128.14 L364.97 128.53 L365.08 128.93 L365.18 129.33 L365.29 129.73 L365.40 130.13 L365.50 130.54 L365.61 130.95 L365.71 131.37 L365.81 131.79 L365.91 132.21 L366.01 132.63 L366.11 133.07 L366.21 133.50 L366.31 133.94 L366.41 134.38 L366.50 134.83 L366.60 135.28 L366.69 135.73 L366.79 136.19 L366.88 136.66 L366.97 137.13 L367.06 137.60 L367.15 138.08 L367.24 138.56 L367.33 139.05 L367.41 139.54 L367.50 140.04 L367.58 140.54 L367.67 141.05 L367.75 141.56 L367.83 142.08 L367.92 142.61 L368.00 143.14 L368.08 143.68 L368.16 144.22 L368.23 144.77 L368.31 145.32 L368.39 145.89 L368.46 146.45 L368.54 147.03 L368.61 147.61 L368.68 148.20 L368.76 148.79 L368.83 149.40 L368.90 150.01 L368.97 150.63 L369.04 151.25 L369.10 151.89 L369.17 152.53 L369.24 153.18 L369.30 153.84 L369.36 154.51 L369.43 155.19 L369.49 155.88 L369.55 156.57 L369.61 157.28 L369.67 158.00 L369.73 158.72 L369.79 159.46 L369.85 160.21 L369.90 160.97 L369.96 161.75 L370.01 162.53 L370.07 163.33 L370.12 164.14 L370.17 164.97 L370.22 165.80 L370.27 166.66 L370.32 167.52 L370.37 168.41 L370.42 169.30 L370.46 170.22 L370.51 171.15 L370.56 172.10 L370.60 173.07 L370.64 174.05 L370.69 175.06 L370.73 176.09 L370.77 177.13 L370.81 178.20 L370.85 179.30 L370.89 180.42 L370.92 181.56 L370.96 182.73 L371.00 183.93 L371.03 185.15 L371.07 186.41 L371.10 187.70 L371.13 189.02 L371.16 190.38 L371.19 191.78 L371.22 193.21 L371.25 194.69 L371.28 196.21 L371.31 197.78 L371.33 199.40 L371.36 201.07 L371.39 202.80 L371.41 204.59 L371.43 206.44 L371.45 208.36 L371.48 210.37 L371.50 212.45 L371.52 214.62 L371.54 216.89 L371.55 219.26 L371.57 221.75 L371.59 224.37 L371.60 227.13 L371.62 230.04 L371.63 233.14 L371.64 236.43 L371.66 239.96 L371.67 243.74 L371.68 247.83 L371.69 252.27 L371.70 257.14 L371.70 262.51 L371.71 268.53 L371.72 275.35 L371.72 283.22 L371.73 292.53 L371.73 303.93 L371.73 318.62 L371.74 339.32 L371.74 369.40" stroke="#0000ff"/>
<path d="M60.00 88.70 L61.10 88.70 L62.20 88.70 L63.30 88.70 L64.40 88.69 L65.50 88.69 L66.60 88.69 L67.70 88.69 L68.80 88.68 L69.90 88.68 L70.99 88.68 L72.09 88.67 L73.19 88.67 L74.29 88.67 L75.39 88.67 L76.49 88.66 L77.59 88.66 L78.69 88.66 L79.79 88.65 L80.89 88.65 L81.99 88.65 L83.09 88.64 L84.19 88.64 L85.29 88.64 L86.39 88.63 L87.49 88.63 L88.59 88.62 L89.69 88.62 L90.79 88.62 L91.89 88.61 L92.98 88.61 L94.08 88.61 L95.18 88.60 L96.28 88.60 L97.38 88.59 L98.48 88.59 L99.58 88.58 L100.68 88.58 L101.78 88.57 L102.88 88.57 L103.98 88.57 L105.08 88.56 L106.18 88.56 L107.28 88.55 L108.38 88.55 L109.48 88.54 L110.58 88.54 L111.68 88.53 L112.78 88.53 L113.88 88.52 L114.97 88.51 L116.07 88.51 L117.17 88.50 L118.27 88.50 L119.37 88.49 L120.47 88.49 L121.57 88.48 L122.67 88.47 L123.77 88.47 L124.87 88.46 L125.97 88.45 L127.07 88.45 L128.17 88.44 L129.27 88.43 L130.37 88.43 L131.47 88.42 L132.57 88.41 L133.67 88.41 L134.77 88.40 L135.87 88.39 L136.96 88.38 L138.06 88.38 L139.16 88.37 L140.26 88.36 L141.36 88.35 L142.46 88.34 L143.56 88.34 L144.66 88.33 L145.76 88.32 L146.86 88.31 L147.96 88.30 L149.06 88.29 L150.16 88.28 L151.26 88.27 L152.36 88.26 L153.46 88.25 L154.56 88.24 L155.66 88.23 L156.76 88.22 L157.86 88.21 L158.95 88.20 L160.05 88.19 L161.15 88.18 L162.25 88.17 L163.35 88.16 L164.45 88.15 L165.55 88.14 L166.65 88.12 L167.75 88.11 L168.85 88.10 L169.95 88.09 L171.05 88.08 L172.15 88.06 L173.25 88.05 L174.35 88.04 L175.45 88.02 L176.55 88.01 L177.65 88.00 L178.75 87.98 L179.85 87.97 L180.94 87.95 L182.04 87.94 L183.14 87.93 L184.24 87.91 L185.34 87.89 L186.44 87.88 L187.54 87.86 L188.64 87.85 L189.74 87.83 L190.84 87.81 L191.94 87.80 L193.04 87.78 L194.14 87.76 L195.24 87.75 L196.34 87.73 L197.44 87.71 L198.54 87.69 L199.64 87.67 L200.74 87.65 L201.84 87.64 L202.93 87.62 L204.03 87.60 L205.13 87.58 L206.23 87.56 L207.33 87.53 L208.43 87.51 L209.53 87.49 L210.63 87.47 L211.73 87.45 L212.83 87.43 L213.93 87.40 L215.03 87.38 L216.13 87.36 L217.23 87.33 L218.33 87.31 L219.43 87.28 L220.53 87.26 L221.63 87.23 L222.73 87.21 L223.83 87.18 L224.92 87.16 L226.02 87.13 L227.12 87.10 L228.22 87.07 L229.32 87.05 L230.42 87.02 L231.52 86.99 L232.62 86.96 L233.72 86.93 L234.82 86.90 L235.92 86.87 L237.02 86.84 L238.12 86.81 L239.22 86.77 L240.32 86.74 L241.42 86.71 L242.52 86.67 L243.62 86.64 L244.72 86.61 L245.82 86.57 L246.91 86.54 L248.01 86.50 L249.11 86.46 L250.21 86.43 L251.31 86.39 L252.41 86.35 L253.51 86.31 L254.61 86.27 L255.71 86.23 L256.81 86.19 L257.91 86.15 L259.01 86.11 L260.11 86.07 L261.21 86.02 L262.31 85.98 L263.41 85.94 L264.51 85.89 L265.61 85.85 L266.71 85.80 L267.81 85.76 L268.90 85.71 L270.00 85.66 L271.10 85.61 L272.20 85.56 L273.30 85.51 L274.40 85.46 L275.50 85.41 L276.60 85.36 L277.70 85.31 L278.80 85.25 L279.90 85.20 L281.00 85.14 L282.10 85.09 L283.20 85.03 L284.30 84.97 L285.40 84.92 L286.50 84.86 L287.60 84.80 L288.70 84.74 L289.80 84.68 L290.89 84.61 L291.99 84.55 L293.09 84.49 L294.19 84.42 L295.29 84.36 L296.39 84.29 L297.49 84.22 L298.59 84.16 L299.69 84.09 L300.79 84.02 L301.89 83.95 L302.99 83.87 L304.09 83.80 L305.19 83.73 L306.29 83.65 L307.39 83.58 L308.49 83.50 L309.59 83.42 L310.69 83.35 L311.79 83.27 L312.88 83.19 L313.98 83.10 L315.08 83.02 L316.18 82.94 L317.28 82.85 L318.38 82.77 L319.48 82.68 L320.58 82.59 L321.68 82.50 L322.78 82.41 L323.88 82.32 L324.98 82.23 L326.08 82.14 L327.18 82.04 L328.28 81.95 L329.38 81.85 L330.48 81.75 L331.58 81.65 L332.68 81.55 L333.78 81.45 L334.87 81.35 L335.97 81.25 L337.07 81.14 L338.17 81.03 L339.27 80.93 L340.37 80.82 L341.47 80.71 L342.57 80.60 L343.67 80.49 L344.77 80.37 L345.87 80.26 L346.97 80.14 L348.07 80.02 L349.17 79.90 L350.27 79.78 L351.37 79.66 L352.47 79.54 L353.57 79.41 L354.67 79.29 L355.77 79.16 L356.86 79.03 L357.96 78.90 L359.06 78.77 L360.16 78.64 L361.26 78.51 L362.36 78.37 L363.46 78.24 L364.56 78.10 L365.66 77.96 L366.76 77.82 L367.86 77.67 L368.96 77.53 L370.06 77.39 L371.16 77.24 L372.26 77.09 L373.36 76.94 L374.46 76.79 L375.56 76.64 L376.66 76.48 L377.76 76.33 L378.85 76.17 L379.95 76.01 L381.05 75.85 L382.15 75.69 L383.25 75.53 L384.35 75.36 L385.45 75.20 L386.55 75.03 L387.65 74.86 L388.75 74.69 L389.85 74.52 L390.95 74.35 L392.05 74.17 L393.15 73.99 L394.25 73.82 L395.35 73.64 L396.45 73.45 L397.55 73.27 L398.65 73.09 L399.75 72.90 L400.84 72.71 L401.94 72.52 L403.04 72.33 L404.14 72.14 L405.24 71.95 L406.34 71.75 L407.44 71.56 L408.54 71.36 L409.64 71.16 L410.74 70.96 L411.84 70.75 L412.94 70.55 L414.04 70.34 L415.14 70.13 L416.24 69.93 L417.34 69.71 L418.44 69.50 L419.54 69.29 L420.64 69.07 L421.74 68.86 L422.83 68.64 L423.93 68.42 L425.03 68.20 L426.13 67.97 L427.23 67.75 L428.33 67.52 L429.43 67.29 L430.53 67.06 L431.63 66.83 L432.73 66.60 L433.83 66.37 L434.93 66.13 L436.03 65.89 L437.13 65.66 L438.23 65.42 L439.33 65.18 L440.43 64.93 L441.53 64.69 L442.63 64.44 L443.73 64.20 L444.82 63.95 L445.92 63.70 L447.02 63.44 L448.12 63.19 L449.22 62.94 L450.32 62.68 L451.42 62.42 L452.52 62.17 L453.62 61.91 L454.72 61.64 L455.82 61.38 L456.92 61.12 L458.02 60.85 L459.12 60.58 L460.22 60.32 L461.32 60.05 L462.42 59.77 L463.52 59.50 L464.62 59.23 L465.72 58.95 L466.81 58.68 L467.91 58.40 L469.01 58.12 L470.11 57.84 L471.21 57.56 L472.31 57.27 L473.41 56.99 L474.51 56.70 L475.61 56.42 L476.71 56.13 L477.81 55.84 L478.91 55.55 L480.01 55.26 L481.11 54.97 L482.21 54.67 L483.31 54.38 L484.41 54.08 L485.51 53.78 L486.61 53.48 L487.71 53.18 L488.80 52.88 L489.90 52.58 L491.00 52.28 L492.10 51.97 L493.20 51.67 L494.30 51.36 L495.40 51.05 L496.50 50.74 L497.60 50.43 L498.70 50.12" stroke="#00ff00"/>
<path d="M466.38 369.40 L466.38 368.70 L466.38 367.99 L466.38 367.29 L466.38 366.59 L466.38 365.88 L466.38 365.18 L466.38 364.47 L466.38 363.77 L466.38 363.07 L466.38 362.36 L466.38 361.66 L466.38 360.96 L466.38 360.25 L466.38 359.55 L466.38 358.85 L466.38 358.14 L466.38 357.44 L466.38 356.74 L466.38 356.03 L466.38 355.33 L466.38 354.62 L466.38 353.92 L466.38 353.22 L466.37 352.51 L466.37 351.81 L466.37 351.11 L466.37 350.40 L466.37 349.70 L466.37 349.00 L466.37 348.29 L466.37 347.59 L466.37 346.88 L466.37 346.18 L466.37 345.48 L466.37 344.77 L466.37 344.07 L466.37 343.37 L466.37 342.66 L466.37 341.96 L466.37 341.26 L466.37 340.55 L466.37 339.85 L466.37 339.14 L466.37 338.44 L466.37 337.74 L466.37 337.03 L466.36 336.33 L466.36 335.63 L466.36 334.92 L466.36 334.22 L466.36 333.52 L466.36 332.81 L466.36 332.11 L466.36 331.41 L466.36 330.70 L466.36 330.00 L466.36 329.29 L466.36 328.59 L466.36 327.89 L466.36 327.18 L466.36 326.48 L466.36 325.78 L466.36 325.07 L466.36 324.37 L466.35 323.67 L466.35 322.96 L466.35 322.26 L466.35 321.55 L466.35 320.85 L466.35 320.15 L466.35 319.44 L466.35 318.74 L466.35 318.04 L466.35 317.33 L466.35 316.63 L466.35 315.93 L466.35 315.22 L466.35 314.52 L466.35 313.82 L466.34 313.11 L466.34 312.41 L466.34 311.70 L466.34 311.00 L466.34 310.30 L466.34 309.59 L466.34 308.89 L466.34 308.19 L466.34 307.48 L466.34 306.78 L466.34 306.08 L466.34 305.37 L466.34 304.67 L466.33 303.96 L466.33 303.26 L466.33 302.56 L466.33 301.85 L466.33 301.15 L466.33 300.45 L466.33 299.74 L466.33 299.04 L466.33 298.34 L466.33 297.63 L466.33 296.93 L466.32 296.22 L466.32 295.52 L466.32 294.82 L466.32 294.11 L466.32 293.41 L466.32 292.71 L466.32 292.00 L466.32 291.30 L466.32 290.60 L466.32 289.89 L466.31 289.19 L466.31 288.49 L466.31 287.78 L466.31 287.08 L466.31 286.37 L466.31 285.67 L466.31 284.97 L466.31 284.26 L466.31 283.56 L466.30 282.86 L466.30 282.15 L466.30 281.45 L466.30 280.75 L466.30 280.04 L466.30 279.34 L466.30 278.63 L466.30 277.93 L466.30 277.23 L466.29 276.52 L466.29 275.82 L466.29 275.12 L466.29 274.41 L466.29 273.71 L466.29 273.01 L466.29 272.30 L466.29 271.60 L466.28 270.89 L466.28 270.19 L466.28 269.49 L466.28 268.78 L466.28 268.08 L466.28 267.38 L466.28 266.67 L466.28 265.97 L466.27 265.27 L466.27 264.56 L466.27 263.86 L466.27 263.16 L466.27 262.45 L466.27 261.75 L466.27 261.04 L466.27 260.34 L466.26 259.64 L466.26 258.93 L466.26 258.23 L466.26 257.53 L466.26 256.82 L466.26 256.12 L466.26 255.42 L466.26 254.71 L466.25 254.01 L466.25 253.30 L466.25 252.60 L466.25 251.90 L466.25 251.19 L466.25 250.49 L466.25 249.79 L466.24 249.08 L466.24 248.38 L466.24 247.68 L466.24 246.97 L466.24 246.27 L466.24 245.57 L466.24 244.86 L466.24 244.16 L466.24 243.45 L466.23 242.75 L466.23 242.05 L466.23 241.34 L466.23 240.64 L466.23 239.94 L466.23 239.23 L466.23 238.53 L466.23 237.83 L466.23 237.12 L466.22 236.42 L466.22 235.71 L466.22 235.01 L466.22 234.31 L466.22 233.60 L466.22 232.90 L466.22 232.20 L466.22 231.49 L466.22 230.79 L466.22 230.09 L466.22 229.38 L466.22 228.68 L466.22 227.97 L466.22 227.27 L466.22 226.57 L466.22 225.86 L466.22 225.16 L466.21 224.46 L466.21 223.75 L466.21 223.05 L466.21 222.35 L466.21 221.64 L466.21 220.94 L466.22 220.24 L466.22 219.53 L466.22 218.83 L466.22 218.12 L466.22 217.42 L466.22 216.72 L466.22 216.01 L466.22 215.31 L466.22 214.61 L466.22 213.90 L466.22 213.20 L466.22 212.50 L466.23 211.79 L466.23 211.09 L466.23 210.38 L466.23 209.68 L466.23 208.98 L466.24 208.27 L466.24 207.57 L466.24 206.87 L466.24 206.16 L466.25 205.46 L466.25 204.76 L466.25 204.05 L466.26 203.35 L466.26 202.65 L466.26 201.94 L466.27 201.24 L466.27 200.53 L466.28 199.83 L466.28 199.13 L466.29 198.42 L466.29 197.72 L466.30 197.02 L466.30 196.31 L466.31 195.61 L466.32 194.91 L466.32 194.20 L466.33 193.50 L466.34 192.79 L466.34 192.09 L466.35 191.39 L466.36 190.68 L466.37 189.98 L466.38 189.28 L466.39 188.57 L466.40 187.87 L466.41 187.17 L466.42 186.46 L466.43 185.76 L466.44 185.05 L466.45 184.35 L466.47 183.65 L466.48 182.94 L466.49 182.24 L466.51 181.54 L466.52 180.83 L466.54 180.13 L466.55 179.43 L466.57 178.72 L466.59 178.02 L466.61 177.32 L466.62 176.61 L466.64 175.91 L466.66 175.20 L466.68 174.50 L466.70 173.80 L466.73 173.09 L466.75 172.39 L466.77 171.69 L466.80 170.98 L466.82 170.28 L466.85 169.58 L466.88 168.87 L466.91 168.17 L466.93 167.46 L466.97 166.76 L467.00 166.06 L467.03 165.35 L467.06 164.65 L467.10 163.95 L467.13 163.24 L467.17 162.54 L467.21 161.84 L467.25 161.13 L467.29 160.43 L467.33 159.73 L467.37 159.02 L467.42 158.32 L467.46 157.61 L467.51 156.91 L467.56 156.21 L467.61 155.50 L467.67 154.80 L467.72 154.10 L467.78 153.39 L467.83 152.69 L467.89 151.99 L467.96 151.28 L468.02 150.58 L468.08 149.87 L468.15 149.17 L468.22 148.47 L468.29 147.76 L468.37 147.06 L468.44 146.36 L468.52 145.65 L468.60 144.95 L468.69 144.25 L468.77 143.54 L468.86 142.84 L468.95 142.13 L469.05 141.43 L469.14 140.73 L469.24 140.02 L469.35 139.32 L469.45 138.62 L469.56 137.91 L469.67 137.21 L469.79 136.51 L469.91 135.80 L470.03 135.10 L470.16 134.40 L470.29 133.69 L470.42 132.99 L470.56 132.28 L470.70 131.58 L470.84 130.88 L470.99 130.17 L471.14 129.47 L471.30 128.77 L471.46 128.06 L471.63 127.36 L471.80 126.66 L471.97 125.95 L472.15 125.25 L472.34 124.54 L472.53 123.84 L472.73 123.14 L472.93 122.43 L473.13 121.73 L473.34 121.03 L473.56 120.32 L473.79 119.62 L474.01 118.92 L474.25 118.21 L474.49 117.51 L474.74 116.81 L474.99 116.10 L475.25 115.40 L475.52 114.69 L475.79 113.99 L476.08 113.29 L476.36 112.58 L476.66 111.88 L476.96 111.18 L477.27 110.47 L477.59 109.77 L477.92 109.07 L478.25 108.36 L478.59 107.66 L478.94 106.95 L479.30 106.25 L479.67 105.55 L480.04 104.84 L480.43 104.14 L480.82 103.44 L481.22 102.73 L481.64 102.03 L482.06 101.33 L482.49 100.62 L482.93 99.92 L483.38 99.21 L483.84 98.51 L484.31 97.81 L484.79 97.10 L485.28 96.40 L485.79 95.70 L486.30 94.99 L486.82 94.29 L487.36 93.59 L487.90 92.88 L488.46 92.18 L489.03 91.48 L489.61 90.77 L490.20 90.07 L490.80 89.36 L491.42 88.66 L492.05 87.96 L492.69 87.25 L493.34 86.55 L494.00 85.85 L494.68 85.14 L495.37 84.44 L496.07 83.74 L496.79 83.03 L497.51 82.33 L498.25 81.62 L499.01 80.92 L499.77 80.22 L500.55 79.51 L501.35 78.81 L502.15 78.11 L502.97 77.40 L503.81 76.70 L504.65 76.00 L505.51 75.29 L506.39 74.59 L507.27 73.88 L508.17 73.18 L509.09 72.48 L510.02 71.77 L510.96 71.07 L511.91 70.37 L512.88 69.66 L513.86 68.96 L514.86 68.26 L515.87 67.55 L516.89 66.85 L517.93 66.15 L518.98 65.44 L520.04 64.74 L521.12 64.03 L522.21 63.33 L523.32 62.63 L524.43 61.92 L525.56 61.22 L526.71 60.52 L527.86 59.81 L529.03 59.11 L530.22 58.41 L531.41 57.70 L532.62 57.00 L533.84 56.29 L535.08 55.59 L536.32 54.89 L537.58 54.18 L538.85 53.48 L540.14 52.78 L541.43 52.07 L542.74 51.37 L544.06 50.67 L545.39 49.96 L546.73 49.26 L548.09 48.56 L549.45 47.85 L550.83 47.15 L552.22 46.44 L553.62 45.74 L555.03 45.04 L556.45 44.33 L557.88 43.63 L559.32 42.93 L560.77 42.22 L562.24 41.52 L563.71 40.82 L565.19 40.11 L566.68 39.41 L568.18 38.70 L569.69 38.00 L571.21 37.30 L572.74 36.59 L574.28 35.89 L575.83 35.19 L577.38 34.48 L578.95 33.78 L580.52 33.08 L582.10 32.37 L583.69 31.67 L585.28 30.96 L586.89 30.26 L588.50 29.56 L590.12 28.85 L591.75 28.15 L593.38 27.45 L595.03 26.74 L596.67 26.04 L598.33 25.34 L599.99 24.63 L601.66 23.93 L603.34 23.23 L605.02 22.52 L606.71 21.82 L608.40 21.11 L610.10 20.41 L611.81 19.71 L613.52 19.00 L615.23 18.30" stroke="#00ff00"/>
<path d="M60.00 104.73 L61.10 104.72 L62.20 104.71 L63.30 104.70 L64.40 104.69 L65.50 104.68 L66.60 104.67 L67.70 104.66 L68.80 104.65 L69.90 104.64 L70.99 104.63 L72.09 104.62 L73.19 104.61 L74.29 104.60 L75.39 104.59 L76.49 104.58 L77.59 104.57 L78.69 104.56 L79.79 104.55 L80.89 104.54 L81.99 104.53 L83.09 104.52 L84.19 104.50 L85.29 104.49 L86.39 104.48 L87.49 104.47 L88.59 104.45 L89.69 104.44 L90.79 104.43 L91.89 104.42 L92.98 104.40 L94.08 104.39 L95.18 104.37 L96.28 104.36 L97.38 104.35 L98.48 104.33 L99.58 104.32 L100.68 104.30 L101.78 104.29 L102.88 104.27 L103.98 104.26 L105.08 104.24 L106.18 104.22 L107.28 104.21 L108.38 104.19 L109.48 104.17 L110.58 104.16 L111.68 104.14 L112.78 104.12 L113.88 104.10 L114.97 104.08 L116.07 104.07 L117.17 104.05 L118.27 104.03 L119.37 104.01 L120.47 103.99 L121.57 103.97 L122.67 103.95 L123.77 103.93 L124.87 103.91 L125.97 103.88 L127.07 103.86 L128.17 103.84 L129.27 103.82 L130.37 103.80 L131.47 103.77 L132.57 103.75 L133.67 103.73 L134.77 103.70 L135.87 103.68 L136.96 103.65 L138.06 103.63 L139.16 103.60 L140.26 103.57 L141.36 103.55 L142.46 103.52 L143.56 103.49 L144.66 103.47 L145.76 103.44 L146.86 103.41 L147.96 103.38 L149.06 103.35 L150.16 103.32 L151.26 103.29 L152.36 103.26 L153.46 103.23 L154.56 103.20 L155.66 103.17 L156.76 103.13 L157.86 103.10 L158.95 103.07 L160.05 103.03 L161.15 103.00 L162.25 102.97 L163.35 102.93 L164.45 102.89 L165.55 102.86 L166.65 102.82 L167.75 102.78 L168.85 102.74 L169.95 102.71 L171.05 102.67 L172.15 102.63 L173.25 102.59 L174.35 102.55 L175.45 102.50 L176.55 102.46 L177.65 102.42 L178.75 102.38 L179.85 102.33 L180.94 102.29 L182.04 102.24 L183.14 102.20 L184.24 102.15 L185.34 102.10 L186.44 102.05 L187.54 102.01 L188.64 101.96 L189.74 101.91 L190.84 101.86 L191.94 101.81 L193.04 101.75 L194.14 101.70 L195.24 101.65 L196.34 101.59 L197.44 101.54 L198.54 101.48 L199.64 101.43 L200.74 101.37 L201.84 101.31 L202.93 101.25 L204.03 101.19 L205.13 101.13 L206.23 101.07 L207.33 101.01 L208.43 100.95 L209.53 100.88 L210.63 100.82 L211.73 100.75 L212.83 100.69 L213.93 100.62 L215.03 100.55 L216.13 100.48 L217.23 100.41 L218.33 100.34 L219.43 100.27 L220.53 100.20 L221.63 100.12 L222.73 100.05 L223.83 99.97 L224.92 99.90 L226.02 99.82 L227.12 99.74 L228.22 99.66 L229.32 99.58 L230.42 99.50 L231.52 99.42 L232.62 99.33 L233.72 99.25 L234.82 99.16 L235.92 99.08 L237.02 98.99 L238.12 98.90 L239.22 98.81 L240.32 98.72 L241.42 98.63 L242.52 98.53 L243.62 98.44 L244.72 98.35 L245.82 98.25 L246.91 98.15 L248.01 98.05 L249.11 97.95 L250.21 97.85 L251.31 97.75 L252.41 97.64 L253.51 97.54 L254.61 97.43 L255.71 97.33 L256.81 97.22 L257.91 97.11 L259.01 97.00 L260.11 96.88 L261.21 96.77 L262.31 96.65 L263.41 96.54 L264.51 96.42 L265.61 96.30 L266.71 96.18 L267.81 96.06 L268.90 95.94 L270.00 95.81 L271.10 95.69 L272.20 95.56 L273.30 95.43 L274.40 95.30 L275.50 95.17 L276.60 95.04 L277.70 94.91 L278.80 94.77 L279.90 94.63 L281.00 94.50 L282.10 94.36 L283.20 94.22 L284.30 94.07 L285.40 93.93 L286.50 93.78 L287.60 93.64 L288.70 93.49 L289.80 93.34 L290.89 93.19 L291.99 93.04 L293.09 92.88 L294.19 92.73 L295.29 92.57 L296.39 92.41 L297.49 92.25 L298.59 92.09 L299.69 91.93 L300.79 91.76 L301.89 91.60 L302.99 91.43 L304.09 91.26 L305.19 91.09 L306.29 90.92 L307.39 90.74 L308.49 90.57 L309.59 90.39 L310.69 90.22 L311.79 90.04 L312.88 89.85 L313.98 89.67 L315.08 89.49 L316.18 89.30 L317.28 89.11 L318.38 88.92 L319.48 88.73 L320.58 88.54 L321.68 88.35 L322.78 88.15 L323.88 87.96 L324.98 87.76 L326.08 87.56 L327.18 87.36 L328.28 87.15 L329.38 86.95 L330.48 86.74 L331.58 86.53 L332.68 86.33 L333.78 86.11 L334.87 85.90 L335.97 85.69 L337.07 85.47 L338.17 85.26 L339.27 85.04 L340.37 84.82 L341.47 84.60 L342.57 84.37 L343.67 84.15 L344.77 83.92 L345.87 83.69 L346.97 83.46 L348.07 83.23 L349.17 83.00 L350.27 82.77 L351.37 82.53 L352.47 82.30 L353.57 82.06 L354.67 81.82 L355.77 81.58 L356.86 81.33 L357.96 81.09 L359.06 80.84 L360.16 80.60 L361.26 80.35 L362.36 80.10 L363.46 79.85 L364.56 79.59 L365.66 79.34 L366.76 79.08 L367.86 78.82 L368.96 78.57 L370.06 78.31 L371.16 78.04 L372.26 77.78 L373.36 77.52 L374.46 77.25 L375.56 76.98 L376.66 76.72 L377.76 76.45 L378.85 76.18 L379.95 75.90 L381.05 75.63 L382.15 75.35 L383.25 75.08 L384.35 74.80 L385.45 74.52 L386.55 74.24 L387.65 73.96 L388.75 73.68 L389.85 73.39 L390.95 73.11 L392.05 72.82 L393.15 72.53 L394.25 72.24 L395.35 71.95 L396.45 71.66 L397.55 71.37 L398.65 71.07 L399.75 70.78 L400.84 70.48 L401.94 70.18 L403.04 69.88 L404.14 69.58 L405.24 69.28 L406.34 68.98 L407.44 68.68 L408.54 68.37 L409.64 68.07 L410.74 67.76 L411.84 67.45 L412.94 67.14 L414.04 66.83 L415.14 66.52 L416.24 66.21 L417.34 65.90 L418.44 65.58 L419.54 65.27 L420.64 64.95 L421.74 64.63 L422.83 64.32 L423.93 64.00 L425.03 63.68 L426.13 63.36 L427.23 63.03 L428.33 62.71 L429.43 62.39 L430.53 62.06 L431.63 61.74 L432.73 61.41 L433.83 61.08 L434.93 60.75 L436.03 60.42 L437.13 60.09 L438.23 59.76 L439.33 59.43 L440.43 59.10 L441.53 58.76 L442.63 58.43 L443.73 58.09 L444.82 57.76 L445.92 57.42 L447.02 57.08 L448.12 56.74 L449.22 56.40 L450.32 56.06 L451.42 55.72 L452.52 55.38 L453.62 55.04 L454.72 54.69 L455.82 54.35 L456.92 54.01 L458.02 53.66 L459.12 53.31 L460.22 52.97 L461.32 52.62 L462.42 52.27 L463.52 51.92 L464.62 51.57 L465.72 51.22 L466.81 50.87 L467.91 50.52 L469.01 50.17 L470.11 49.82 L471.21 49.46 L472.31 49.11 L473.41 48.75 L474.51 48.40 L475.61 48.04 L476.71 47.69 L477.81 47.33 L478.91 46.97 L480.01 46.61 L481.11 46.26 L482.21 45.90 L483.31 45.54 L484.41 45.18 L485.51 44.82 L486.61 44.45 L487.71 44.09 L488.80 43.73 L489.90 43.37 L491.00 43.00 L492.10 42.64 L493.20 42.28 L494.30 41.91 L495.40 41.55 L496.50 41.18 L497.60 40.81 L498.70 40.45" stroke="#00ffff"/>
<path d="M400.11 369.40 L400.11 368.70 L400.11 367.99 L400.11 367.29 L400.11 366.59 L400.11 365.88 L400.11 365.18 L400.11 364.47 L400.11 363.77 L400.11 363.07 L400.11 362.36 L400.11 361.66 L400.11 360.96 L400.11 360.25 L400.11 359.55 L400.11 358.85 L400.11 358.14 L400.11 357.44 L400.11 356.74 L400.11 356.03 L400.11 355.33 L400.11 354.62 L400.11 353.92 L400.11 353.22 L400.11 352.51 L400.11 351.81 L400.11 351.11 L400.11 350.40 L400.10 349.70 L400.10 349.00 L400.10 348.29 L400.10 347.59 L400.10 346.88 L400.10 346.18 L400.10 345.48 L400.10 344.77 L400.10 344.07 L400.10 343.37 L400.10 342.66 L400.10 341.96 L400.10 341.26 L400.10 340.55 L400.10 339.85 L400.10 339.14 L400.10 338.44 L400.10 337.74 L400.10 337.03 L400.10 336.33 L400.10 335.63 L400.10 334.92 L400.10 334.22 L400.10 333.52 L400.10 332.81 L400.10 332.11 L400.10 331.41 L400.10 330.70 L400.10 330.00 L400.10 329.29 L400.10 328.59 L400.10 327.89 L400.10 327.18 L400.10 326.48 L400.10 325.78 L400.10 325.07 L400.10 324.37 L400.10 323.67 L400.10 322.96 L400.10 322.26 L400.10 321.55 L400.10 320.85 L400.10 320.15 L400.10 319.44 L400.10 318.74 L400.10 318.04 L400.10 317.33 L400.09 316.63 L400.09 315.93 L400.09 315.22 L400.09 314.52 L400.09 313.82 L400.09 313.11 L400.09 312.41 L400.09 311.70 L400.09 311.00 L400.09 310.30 L400.09 309.59 L400.09 308.89 L400.09 308.19 L400.09 307.48 L400.09 306.78 L400.09 306.08 L400.09 305.37 L400.09 304.67 L400.09 303.96 L400.09 303.26 L400.09 302.56 L400.09 301.85 L400.09 301.15 L400.09 300.45 L400.09 299.74 L400.09 299.04 L400.09 298.34 L400.09 297.63 L400.09 296.93 L400.09 296.22 L400.09 295.52 L400.09 294.82 L400.09 294.11 L400.09 293.41 L400.09 292.71 L400.09 292.00 L400.09 291.30 L400.09 290.60 L400.09 289.89 L400.09 289.19 L400.09 288.49 L400.08 287.78 L400.08 287.08 L400.08 286.37 L400.08 285.67 L400.08 284.97 L400.08 284.26 L400.08 283.56 L400.08 282.86 L400.08 282.15 L400.08 281.45 L400.08 280.75 L400.08 280.04 L400.08 279.34 L400.08 278.63 L400.08 277.93 L400.08 277.23 L400.08 276.52 L400.08 275.82 L400.08 275.12 L400.08 274.41 L400.08 273.71 L400.08 273.01 L400.08 272.30 L400.08 271.60 L400.08 270.89 L400.08 270.19 L400.08 269.49 L400.08 268.78 L400.08 268.08 L400.08 267.38 L400.08 266.67 L400.08 265.97 L400.08 265.27 L400.08 264.56 L400.08 263.86 L400.08 263.16 L400.08 262.45 L400.08 261.75 L400.08 261.04 L400.08 260.34 L400.08 259.64 L400.08 258.93 L400.08 258.23 L400.09 257.53 L400.09 256.82 L400.09 256.12 L400.09 255.42 L400.09 254.71 L400.09 254.01 L400.09 253.30 L400.09 252.60 L400.09 251.90 L400.09 251.19 L400.09 250.49 L400.09 249.79 L400.09 249.08 L400.09 248.38 L400.09 247.68 L400.10 246.97 L400.10 246.27 L400.10 245.57 L400.10 244.86 L400.10 244.16 L400.10 243.45 L400.10 242.75 L400.10 242.05 L400.10 241.34 L400.11 240.64 L400.11 239.94 L400.11 239.23 L400.11 238.53 L400.11 237.83 L400.11 237.12 L400.12 236.42 L400.12 235.71 L400.12 235.01 L400.12 234.31 L400.12 233.60 L400.13 232.90 L400.13 232.20 L400.13 231.49 L400.13 230.79 L400.14 230.09 L400.14 229.38 L400.14 228.68 L400.15 227.97 L400.15 227.27 L400.15 226.57 L400.16 225.86 L400.16 225.16 L400.16 224.46 L400.17 223.75 L400.17 223.05 L400.18 222.35 L400.18 221.64 L400.18 220.94 L400.19 220.24 L400.19 219.53 L400.20 218.83 L400.20 218.12 L400.21 217.42 L400.21 216.72 L400.22 216.01 L400.23 215.31 L400.23 214.61 L400.24 213.90 L400.24 213.20 L400.25 212.50 L400.26 211.79 L400.27 211.09 L400.27 210.38 L400.28 209.68 L400.29 208.98 L400.30 208.27 L400.31 207.57 L400.31 206.87 L400.32 206.16 L400.33 205.46 L400.34 204.76 L400.35 204.05 L400.36 203.35 L400.37 202.65 L400.38 201.94 L400.40 201.24 L400.41 200.53 L400.42 199.83 L400.43 199.13 L400.45 198.42 L400.46 197.72 L400.47 197.02 L400.49 196.31 L400.50 195.61 L400.52 194.91 L400.53 194.20 L400.55 193.50 L400.56 192.79 L400.58 192.09 L400.60 191.39 L400.62 190.68 L400.64 189.98 L400.66 189.28 L400.68 188.57 L400.70 187.87 L400.72 187.17 L400.74 186.46 L400.76 185.76 L400.79 185.05 L400.81 184.35 L400.84 183.65 L400.86 182.94 L400.89 182.24 L400.91 181.54 L400.94 180.83 L400.97 180.13 L401.00 179.43 L401.03 178.72 L401.06 178.02 L401.10 177.32 L401.13 176.61 L401.16 175.91 L401.20 175.20 L401.24 174.50 L401.27 173.80 L401.31 173.09 L401.35 172.39 L401.39 171.69 L401.43 170.98 L401.48 170.28 L401.52 169.58 L401.57 168.87 L401.62 168.17 L401.67 167.46 L401.72 166.76 L401.77 166.06 L401.82 165.35 L401.88 164.65 L401.93 163.95 L401.99 163.24 L402.05 162.54 L402.11 161.84 L402.18 161.13 L402.24 160.43 L402.31 159.73 L402.38 159.02 L402.45 158.32 L402.52 157.61 L402.59 156.91 L402.67 156.21 L402.75 155.50 L402.83 154.80 L402.92 154.10 L403.00 153.39 L403.09 152.69 L403.18 151.99 L403.28 151.28 L403.37 150.58 L403.47 149.87 L403.57 149.17 L403.68 148.47 L403.79 147.76 L403.90 147.06 L404.01 146.36 L404.13 145.65 L404.25 144.95 L404.37 144.25 L404.50 143.54 L404.62 142.84 L404.76 142.13 L404.90 141.43 L405.04 140.73 L405.18 140.02 L405.33 139.32 L405.48 138.62 L405.64 137.91 L405.80 137.21 L405.96 136.51 L406.13 135.80 L406.31 135.10 L406.48 134.40 L406.67 133.69 L406.85 132.99 L407.05 132.28 L407.24 131.58 L407.45 130.88 L407.66 130.17 L407.87 129.47 L408.09 128.77 L408.31 128.06 L408.54 127.36 L408.78 126.66 L409.02 125.95 L409.27 125.25 L409.52 124.54 L409.78 123.84 L410.05 123.14 L410.32 122.43 L410.60 121.73 L410.89 121.03 L411.18 120.32 L411.48 119.62 L411.79 118.92 L412.11 118.21 L412.43 117.51 L412.76 116.81 L413.10 116.10 L413.45 115.40 L413.80 114.69 L414.16 113.99 L414.53 113.29 L414.91 112.58 L415.30 111.88 L415.70 111.18 L416.11 110.47 L416.52 109.77 L416.95 109.07 L417.38 108.36 L417.82 107.66 L418.28 106.95 L418.74 106.25 L419.21 105.55 L419.70 104.84 L420.19 104.14 L420.69 103.44 L421.21 102.73 L421.73 102.03 L422.27 101.33 L422.82 100.62 L423.37 99.92 L423.94 99.21 L424.52 98.51 L425.11 97.81 L425.72 97.10 L426.33 96.40 L426.96 95.70 L427.60 94.99 L428.25 94.29 L428.91 93.59 L429.59 92.88 L430.27 92.18 L430.97 91.48 L431.69 90.77 L432.41 90.07 L433.15 89.36 L433.90 88.66 L434.66 87.96 L435.44 87.25 L436.23 86.55 L437.03 85.85 L437.85 85.14 L438.68 84.44 L439.52 83.74 L440.38 83.03 L441.24 82.33 L442.13 81.62 L443.02 80.92 L443.93 80.22 L444.85 79.51 L445.79 78.81 L446.74 78.11 L447.70 77.40 L448.68 76.70 L449.67 76.00 L450.67 75.29 L451.69 74.59 L452.72 73.88 L453.77 73.18 L454.82 72.48 L455.89 71.77 L456.98 71.07 L458.07 70.37 L459.19 69.66 L460.31 68.96 L461.45 68.26 L462.60 67.55 L463.76 66.85 L464.93 66.15 L466.12 65.44 L467.32 64.74 L468.54 64.03 L469.77 63.33 L471.00 62.63 L472.26 61.92 L473.52 61.22 L474.80 60.52 L476.08 59.81 L477.39 59.11 L478.70 58.41 L480.02 57.70 L481.36 57.00 L482.70 56.29 L484.06 55.59 L485.43 54.89 L486.81 54.18 L488.20 53.48 L489.61 52.78 L491.02 52.07 L492.44 51.37 L493.88 50.67 L495.32 49.96 L496.78 49.26 L498.24 48.56 L499.72 47.85 L501.20 47.15 L502.70 46.44 L504.20 45.74 L505.71 45.04 L507.24 44.33 L508.77 43.63 L510.31 42.93 L511.86 42.22 L513.42 41.52 L514.98 40.82 L516.56 40.11 L518.14 39.41 L519.73 38.70 L521.33 38.00 L522.94 37.30 L524.55 36.59 L526.17 35.89 L527.80 35.19 L529.44 34.48 L531.08 33.78 L532.73 33.08 L534.39 32.37 L536.05 31.67 L537.72 30.96 L539.40 30.26 L541.08 29.56 L542.77 28.85 L544.47 28.15 L546.17 27.45 L547.88 26.74 L549.59 26.04 L551.31 25.34 L553.03 24.63 L554.76 23.93 L556.49 23.23 L558.23 22.52 L559.98 21.82 L561.73 21.11 L563.48 20.41 L565.24 19.71 L567.00 19.00 L568.77 18.30" stroke="#00ffff"/>
<path d="M60.00 48.28 L498.70 206.45" stroke="#000" stroke-width="1.9"/>
<path d="M60.00 87.68 L498.70 245.39" stroke="#000" stroke-width="1.9"/>
<path d="M62.20 65.03 L498.70 221.54" stroke="#000" stroke-width="1.4" stroke-dasharray="1.3 3.76" stroke-dashoffset="0"/>
</g>
<path d="M72.92 366.40 v-4.0 M72.92 21.80 v4.0 M104.40 366.40 v-4.0 M104.40 21.80 v4.0 M202.17 366.40 v-4.0 M202.17 21.80 v4.0 M299.95 366.40 v-4.0 M299.95 21.80 v4.0 M357.14 366.40 v-4.0 M357.14 21.80 v4.0 M397.72 366.40 v-4.0 M397.72 21.80 v4.0 M429.20 366.40 v-4.0 M429.20 21.80 v4.0 M64.20 28.42 h4.2 M495.50 28.42 h-4.2 M64.20 63.75 h4.2 M495.50 63.75 h-4.2 M64.20 75.12 h4.2 M495.50 75.12 h-4.2 M64.20 89.78 h4.2 M495.50 89.78 h-4.2 M64.20 110.45 h4.2 M495.50 110.45 h-4.2 M64.20 145.77 h4.2 M495.50 145.77 h-4.2 M64.20 181.10 h4.2 M495.50 181.10 h-4.2 M64.20 192.47 h4.2 M495.50 192.47 h-4.2 M64.20 207.13 h4.2 M495.50 207.13 h-4.2 M64.20 227.80 h4.2 M495.50 227.80 h-4.2 M64.20 263.12 h4.2 M495.50 263.12 h-4.2 M64.20 298.45 h4.2 M495.50 298.45 h-4.2 M64.20 309.82 h4.2 M495.50 309.82 h-4.2 M64.20 324.48 h4.2 M495.50 324.48 h-4.2 M64.20 345.15 h4.2 M495.50 345.15 h-4.2" stroke="#000" stroke-width="1.7" fill="none"/>
<rect x="81.9" y="312.9" width="143" height="30" rx="2.5" fill="#fff"/>
<g style="font-family:'Liberation Sans',sans-serif;font-weight:bold;fill:#000">
<text x="59.9" y="69.7" font-size="16.5" text-anchor="end">0.1</text>
<text x="429.5" y="385.0" font-size="16.5" text-anchor="middle">0.1</text>
<text x="88.00" y="384.90" font-size="16.5">10<tspan font-size="11.5" dx="0.6" dy="-5.1">−</tspan><tspan font-size="11.5" dy="-1.7">2</tspan></text>
<text x="28.20" y="186.90" font-size="16.5">10<tspan font-size="11.5" dx="0.6" dy="-5.1">−</tspan><tspan font-size="11.5" dy="-1.7">2</tspan></text>
<text x="28.20" y="304.25" font-size="16.5">10<tspan font-size="11.5" dx="0.6" dy="-5.1">−</tspan><tspan font-size="11.5" dy="-1.7">3</tspan></text>
<text x="87.4" y="334.0" font-size="17"><tspan font-style="italic">V</tspan><tspan font-size="12" dy="2.7">Rus</tspan><tspan dy="-2.7">=−1.16×10</tspan><tspan font-size="12" dy="-5.9">−</tspan><tspan font-size="12" dy="-1.1">3</tspan></text>
<text transform="translate(293.15,127.4) scale(0.91,1)" font-size="18">C</text>
<text x="255.9" y="412.3" letter-spacing="0.15" font-size="18.5">|<tspan font-style="italic">V</tspan><tspan font-size="13.5" dy="3.4">R4u</tspan><tspan dy="-3.4">|</tspan></text>
<text transform="translate(16.7,218.9) rotate(-90)" letter-spacing="0.2" font-size="18.5">|<tspan font-style="italic">V</tspan><tspan font-size="13.5" dy="3.4">R4d</tspan><tspan dy="-3.4">|</tspan></text>
</g>
</svg></body></html>
